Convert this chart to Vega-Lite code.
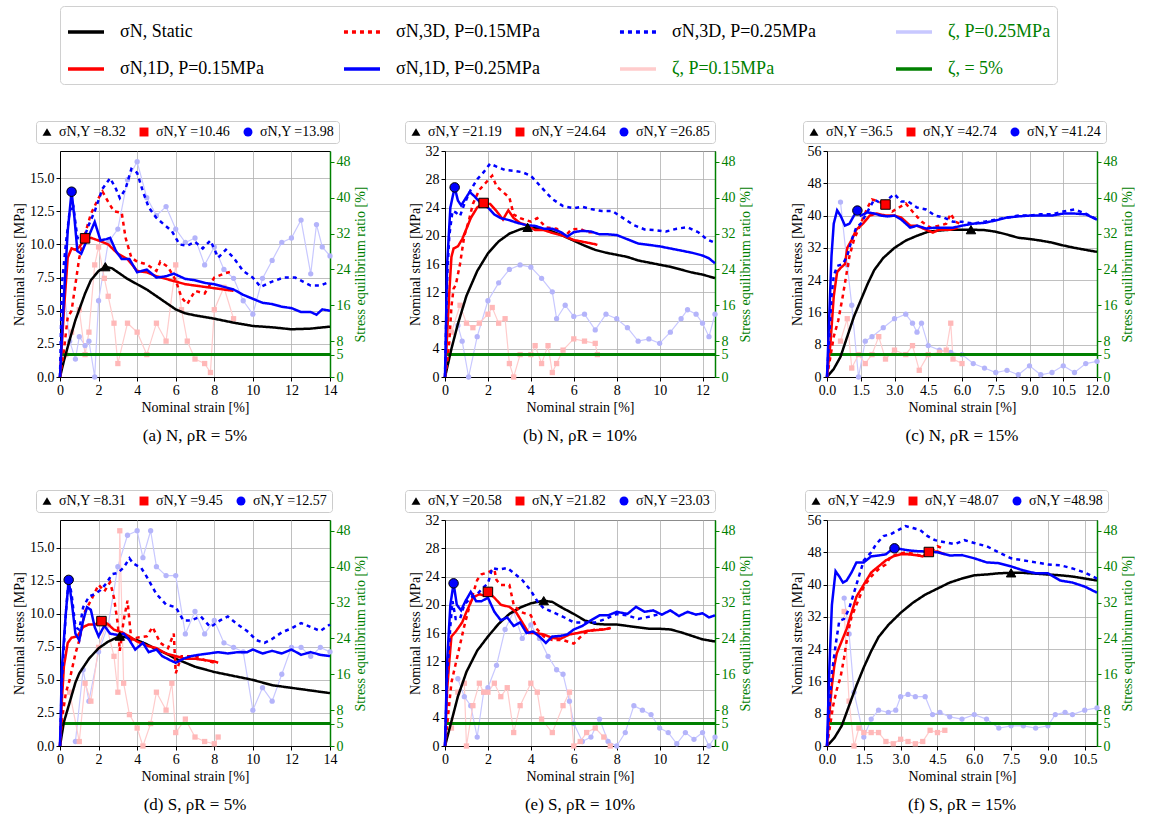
{
"$schema":"https://vega.github.io/schema/vega-lite/v6.json",
"background":"white",
"padding":{"left":12,"top":5,"right":0,"bottom":0},
"config":{
 "font":"Liberation Serif",
 "style":{"guide-label":{"font":"Liberation Serif"},"guide-title":{"font":"Liberation Serif"},"group-title":{"font":"Liberation Serif"}},
 "view":{"stroke":"black","strokeWidth":1},
 "axis":{"labelFont":"Liberation Serif","titleFont":"Liberation Serif","labelFontSize":14,"titleFontSize":14,"titleFontWeight":"normal","labelColor":"black","titleColor":"black","domainColor":"black","tickColor":"black","gridColor":"#b0b0b0","gridWidth":0.8,"tickSize":4,"labelPadding":2,"titlePadding":3,"labelFlush":false,"labelOverlap":false},
 "title":{"orient":"bottom","fontSize":17,"fontWeight":"normal","offset":14,"font":"Liberation Serif"},
 "legend":{"orient":"top","columns":4,"symbolType":"stroke","symbolSize":1300,"symbolStrokeWidth":3.5,"labelFont":"Liberation Serif","labelFontSize":18,"labelLimit":400,"columnPadding":72,"rowPadding":8,"strokeColor":"#d0d0d0","cornerRadius":4,"padding":6,"offset":36,"labelOffset":14}
},
"datasets":{
"lim":[{"s":"Z5","z":5}],
"yp":[
{"p":"a","o":1,"lab":"σN,Y =8.32","x":2.35,"y":8.32},{"p":"a","o":2,"lab":"σN,Y =10.46","x":1.3,"y":10.46},{"p":"a","o":3,"lab":"σN,Y =13.98","x":0.6,"y":13.98},
{"p":"b","o":1,"lab":"σN,Y =21.19","x":3.85,"y":21.19},{"p":"b","o":2,"lab":"σN,Y =24.64","x":1.8,"y":24.64},{"p":"b","o":3,"lab":"σN,Y =26.85","x":0.45,"y":26.85},
{"p":"c","o":1,"lab":"σN,Y =36.5","x":6.4,"y":36.5},{"p":"c","o":2,"lab":"σN,Y =42.74","x":2.6,"y":42.74},{"p":"c","o":3,"lab":"σN,Y =41.24","x":1.35,"y":41.24},
{"p":"d","o":1,"lab":"σN,Y =8.31","x":3.1,"y":8.31},{"p":"d","o":2,"lab":"σN,Y =9.45","x":2.15,"y":9.45},{"p":"d","o":3,"lab":"σN,Y =12.57","x":0.45,"y":12.57},
{"p":"e","o":1,"lab":"σN,Y =20.58","x":4.6,"y":20.58},{"p":"e","o":2,"lab":"σN,Y =21.82","x":2.0,"y":21.82},{"p":"e","o":3,"lab":"σN,Y =23.03","x":0.4,"y":23.03},
{"p":"f","o":1,"lab":"σN,Y =42.9","x":7.5,"y":42.9},{"p":"f","o":2,"lab":"σN,Y =48.07","x":4.15,"y":48.07},{"p":"f","o":3,"lab":"σN,Y =48.98","x":2.75,"y":48.98}
],
"st":[
{"p":"a","s":"S","x":0,"y":0},{"p":"a","s":"S","x":0.2,"y":1.2},{"p":"a","s":"S","x":0.5,"y":2.8},{"p":"a","s":"S","x":0.8,"y":4.3},{"p":"a","s":"S","x":1,"y":5.1},{"p":"a","s":"S","x":1.3,"y":6.3},{"p":"a","s":"S","x":1.6,"y":7.3},{"p":"a","s":"S","x":2,"y":8},{"p":"a","s":"S","x":2.35,"y":8.32},{"p":"a","s":"S","x":2.7,"y":8.2},{"p":"a","s":"S","x":3,"y":7.9},{"p":"a","s":"S","x":3.5,"y":7.4},{"p":"a","s":"S","x":4,"y":7},{"p":"a","s":"S","x":4.5,"y":6.6},{"p":"a","s":"S","x":5,"y":6.1},{"p":"a","s":"S","x":5.5,"y":5.6},{"p":"a","s":"S","x":6,"y":5.1},{"p":"a","s":"S","x":6.5,"y":4.8},{"p":"a","s":"S","x":7,"y":4.65},{"p":"a","s":"S","x":8,"y":4.4},{"p":"a","s":"S","x":9,"y":4.1},{"p":"a","s":"S","x":10,"y":3.85},{"p":"a","s":"S","x":11,"y":3.75},{"p":"a","s":"S","x":12,"y":3.6},{"p":"a","s":"S","x":13,"y":3.65},{"p":"a","s":"S","x":14,"y":3.8},
{"p":"a","s":"R1","x":0,"y":0},{"p":"a","s":"R1","x":0.1,"y":2.5},{"p":"a","s":"R1","x":0.2,"y":5},{"p":"a","s":"R1","x":0.4,"y":9},{"p":"a","s":"R1","x":0.6,"y":9.7},{"p":"a","s":"R1","x":0.8,"y":9.6},{"p":"a","s":"R1","x":1,"y":9.8},{"p":"a","s":"R1","x":1.3,"y":10.46},{"p":"a","s":"R1","x":1.6,"y":10.5},{"p":"a","s":"R1","x":2,"y":10.3},{"p":"a","s":"R1","x":2.5,"y":10},{"p":"a","s":"R1","x":3,"y":9.3},{"p":"a","s":"R1","x":3.5,"y":8.9},{"p":"a","s":"R1","x":4,"y":8},{"p":"a","s":"R1","x":4.5,"y":7.9},{"p":"a","s":"R1","x":5,"y":7.6},{"p":"a","s":"R1","x":5.5,"y":7.4},{"p":"a","s":"R1","x":6,"y":7.2},{"p":"a","s":"R1","x":6.5,"y":7},{"p":"a","s":"R1","x":7,"y":6.9},{"p":"a","s":"R1","x":7.5,"y":6.8},{"p":"a","s":"R1","x":8,"y":6.7},{"p":"a","s":"R1","x":8.5,"y":6.6},{"p":"a","s":"R1","x":9,"y":6.5},
{"p":"a","s":"R3","x":0,"y":0},{"p":"a","s":"R3","x":0.2,"y":2},{"p":"a","s":"R3","x":0.4,"y":4.5},{"p":"a","s":"R3","x":0.6,"y":5},{"p":"a","s":"R3","x":0.8,"y":7},{"p":"a","s":"R3","x":1,"y":9},{"p":"a","s":"R3","x":1.3,"y":10.8},{"p":"a","s":"R3","x":1.6,"y":12.3},{"p":"a","s":"R3","x":2,"y":13.5},{"p":"a","s":"R3","x":2.2,"y":14},{"p":"a","s":"R3","x":2.5,"y":13.2},{"p":"a","s":"R3","x":2.8,"y":12.5},{"p":"a","s":"R3","x":3.2,"y":12.4},{"p":"a","s":"R3","x":3.4,"y":10.5},{"p":"a","s":"R3","x":3.7,"y":9},{"p":"a","s":"R3","x":4,"y":8.7},{"p":"a","s":"R3","x":4.5,"y":8.5},{"p":"a","s":"R3","x":5,"y":8},{"p":"a","s":"R3","x":5.2,"y":8.7},{"p":"a","s":"R3","x":5.6,"y":8.3},{"p":"a","s":"R3","x":6,"y":7.3},{"p":"a","s":"R3","x":6.3,"y":6},{"p":"a","s":"R3","x":6.6,"y":5.5},{"p":"a","s":"R3","x":7,"y":6.5},{"p":"a","s":"R3","x":7.5,"y":6.3},{"p":"a","s":"R3","x":8,"y":7.5},{"p":"a","s":"R3","x":8.5,"y":7.8},{"p":"a","s":"R3","x":9,"y":8},
{"p":"a","s":"B1","x":0,"y":0},{"p":"a","s":"B1","x":0.2,"y":6},{"p":"a","s":"B1","x":0.4,"y":11},{"p":"a","s":"B1","x":0.6,"y":13.98},{"p":"a","s":"B1","x":0.75,"y":12},{"p":"a","s":"B1","x":0.9,"y":9.5},{"p":"a","s":"B1","x":1.1,"y":9.3},{"p":"a","s":"B1","x":1.3,"y":10},{"p":"a","s":"B1","x":1.6,"y":11},{"p":"a","s":"B1","x":1.8,"y":11.7},{"p":"a","s":"B1","x":2.1,"y":10.3},{"p":"a","s":"B1","x":2.4,"y":10.4},{"p":"a","s":"B1","x":2.6,"y":10.5},{"p":"a","s":"B1","x":2.9,"y":9.5},{"p":"a","s":"B1","x":3.2,"y":8.9},{"p":"a","s":"B1","x":3.6,"y":8.9},{"p":"a","s":"B1","x":4,"y":7.9},{"p":"a","s":"B1","x":4.5,"y":8.1},{"p":"a","s":"B1","x":5,"y":7.5},{"p":"a","s":"B1","x":5.5,"y":7.6},{"p":"a","s":"B1","x":5.9,"y":7.8},{"p":"a","s":"B1","x":6.5,"y":7.4},{"p":"a","s":"B1","x":7,"y":7.3},{"p":"a","s":"B1","x":7.5,"y":7.1},{"p":"a","s":"B1","x":8,"y":7},{"p":"a","s":"B1","x":8.5,"y":6.8},{"p":"a","s":"B1","x":9,"y":6.6},{"p":"a","s":"B1","x":9.5,"y":6.2},{"p":"a","s":"B1","x":10,"y":5.9},{"p":"a","s":"B1","x":10.5,"y":5.6},{"p":"a","s":"B1","x":11,"y":5.5},{"p":"a","s":"B1","x":11.5,"y":5.3},{"p":"a","s":"B1","x":12,"y":5.2},{"p":"a","s":"B1","x":12.5,"y":4.9},{"p":"a","s":"B1","x":13,"y":4.9},{"p":"a","s":"B1","x":13.3,"y":4.7},{"p":"a","s":"B1","x":13.6,"y":5.1},{"p":"a","s":"B1","x":14,"y":5},
{"p":"a","s":"B3","x":0,"y":0},{"p":"a","s":"B3","x":0.1,"y":7},{"p":"a","s":"B3","x":0.3,"y":10},{"p":"a","s":"B3","x":0.5,"y":12.5},{"p":"a","s":"B3","x":0.7,"y":12.8},{"p":"a","s":"B3","x":0.9,"y":10.5},{"p":"a","s":"B3","x":1.2,"y":10.3},{"p":"a","s":"B3","x":1.5,"y":11.5},{"p":"a","s":"B3","x":1.8,"y":12.5},{"p":"a","s":"B3","x":2.2,"y":14.2},{"p":"a","s":"B3","x":2.6,"y":15},{"p":"a","s":"B3","x":2.9,"y":14.2},{"p":"a","s":"B3","x":3.1,"y":13.5},{"p":"a","s":"B3","x":3.4,"y":14.2},{"p":"a","s":"B3","x":3.7,"y":15.7},{"p":"a","s":"B3","x":4,"y":15.4},{"p":"a","s":"B3","x":4.3,"y":14},{"p":"a","s":"B3","x":4.6,"y":12.8},{"p":"a","s":"B3","x":5,"y":12},{"p":"a","s":"B3","x":5.4,"y":11.5},{"p":"a","s":"B3","x":5.8,"y":11},{"p":"a","s":"B3","x":6.2,"y":10},{"p":"a","s":"B3","x":6.6,"y":9.9},{"p":"a","s":"B3","x":7,"y":10.2},{"p":"a","s":"B3","x":7.4,"y":9.7},{"p":"a","s":"B3","x":7.8,"y":10.3},{"p":"a","s":"B3","x":8.2,"y":9},{"p":"a","s":"B3","x":8.6,"y":9.6},{"p":"a","s":"B3","x":9,"y":9},{"p":"a","s":"B3","x":9.5,"y":8},{"p":"a","s":"B3","x":10,"y":7.5},{"p":"a","s":"B3","x":10.4,"y":6.8},{"p":"a","s":"B3","x":11,"y":7.2},{"p":"a","s":"B3","x":11.6,"y":7.5},{"p":"a","s":"B3","x":12.2,"y":7.5},{"p":"a","s":"B3","x":12.6,"y":7.2},{"p":"a","s":"B3","x":13,"y":6.9},{"p":"a","s":"B3","x":13.5,"y":6.9},{"p":"a","s":"B3","x":14,"y":7.2},

{"p":"b","s":"S","x":0,"y":0},{"p":"b","s":"S","x":0.3,"y":4},{"p":"b","s":"S","x":0.6,"y":7.5},{"p":"b","s":"S","x":1,"y":11.5},{"p":"b","s":"S","x":1.5,"y":15},{"p":"b","s":"S","x":2,"y":17.5},{"p":"b","s":"S","x":2.5,"y":19.2},{"p":"b","s":"S","x":3,"y":20.3},{"p":"b","s":"S","x":3.5,"y":20.9},{"p":"b","s":"S","x":3.85,"y":21.19},{"p":"b","s":"S","x":4.5,"y":21},{"p":"b","s":"S","x":5,"y":20.6},{"p":"b","s":"S","x":5.5,"y":20},{"p":"b","s":"S","x":6,"y":19.3},{"p":"b","s":"S","x":6.5,"y":18.6},{"p":"b","s":"S","x":7,"y":18},{"p":"b","s":"S","x":7.5,"y":17.6},{"p":"b","s":"S","x":8,"y":17.3},{"p":"b","s":"S","x":8.5,"y":17},{"p":"b","s":"S","x":9,"y":16.5},{"p":"b","s":"S","x":9.5,"y":16.2},{"p":"b","s":"S","x":10,"y":15.9},{"p":"b","s":"S","x":10.5,"y":15.6},{"p":"b","s":"S","x":11,"y":15.2},{"p":"b","s":"S","x":11.5,"y":14.8},{"p":"b","s":"S","x":12,"y":14.5},{"p":"b","s":"S","x":12.58,"y":14},
{"p":"b","s":"R1","x":0,"y":0},{"p":"b","s":"R1","x":0.1,"y":6},{"p":"b","s":"R1","x":0.2,"y":12},{"p":"b","s":"R1","x":0.3,"y":17},{"p":"b","s":"R1","x":0.4,"y":18.2},{"p":"b","s":"R1","x":0.6,"y":18.5},{"p":"b","s":"R1","x":0.8,"y":19.5},{"p":"b","s":"R1","x":1,"y":21},{"p":"b","s":"R1","x":1.2,"y":22.5},{"p":"b","s":"R1","x":1.5,"y":24},{"p":"b","s":"R1","x":1.8,"y":24.64},{"p":"b","s":"R1","x":2.1,"y":24.5},{"p":"b","s":"R1","x":2.4,"y":23.5},{"p":"b","s":"R1","x":2.7,"y":22.3},{"p":"b","s":"R1","x":2.95,"y":23.6},{"p":"b","s":"R1","x":3.2,"y":22.5},{"p":"b","s":"R1","x":3.5,"y":21.8},{"p":"b","s":"R1","x":3.8,"y":21.5},{"p":"b","s":"R1","x":4.2,"y":20.8},{"p":"b","s":"R1","x":4.6,"y":20.8},{"p":"b","s":"R1","x":5,"y":20.4},{"p":"b","s":"R1","x":5.5,"y":20},{"p":"b","s":"R1","x":6,"y":19.4},{"p":"b","s":"R1","x":6.5,"y":19.1},{"p":"b","s":"R1","x":7,"y":18.8},{"p":"b","s":"R1","x":7.1,"y":18.7},
{"p":"b","s":"R3","x":0,"y":0},{"p":"b","s":"R3","x":0.1,"y":2},{"p":"b","s":"R3","x":0.2,"y":5},{"p":"b","s":"R3","x":0.3,"y":10},{"p":"b","s":"R3","x":0.4,"y":12.5},{"p":"b","s":"R3","x":0.5,"y":13},{"p":"b","s":"R3","x":0.7,"y":16},{"p":"b","s":"R3","x":0.9,"y":20},{"p":"b","s":"R3","x":1.1,"y":22},{"p":"b","s":"R3","x":1.3,"y":24.5},{"p":"b","s":"R3","x":1.6,"y":26.5},{"p":"b","s":"R3","x":1.9,"y":27.5},{"p":"b","s":"R3","x":2.2,"y":28.5},{"p":"b","s":"R3","x":2.4,"y":27},{"p":"b","s":"R3","x":2.7,"y":26.2},{"p":"b","s":"R3","x":3,"y":25.4},{"p":"b","s":"R3","x":3.2,"y":23},{"p":"b","s":"R3","x":3.5,"y":22.5},{"p":"b","s":"R3","x":4,"y":22},{"p":"b","s":"R3","x":4.3,"y":22.5},{"p":"b","s":"R3","x":4.7,"y":21.2},{"p":"b","s":"R3","x":5.2,"y":21},{"p":"b","s":"R3","x":5.6,"y":20},{"p":"b","s":"R3","x":5.9,"y":20.9},{"p":"b","s":"R3","x":6.3,"y":21},{"p":"b","s":"R3","x":6.6,"y":20.5},{"p":"b","s":"R3","x":7,"y":20.5},
{"p":"b","s":"B1","x":0,"y":0},{"p":"b","s":"B1","x":0.1,"y":16},{"p":"b","s":"B1","x":0.25,"y":24},{"p":"b","s":"B1","x":0.45,"y":26.85},{"p":"b","s":"B1","x":0.6,"y":25},{"p":"b","s":"B1","x":0.75,"y":24.3},{"p":"b","s":"B1","x":0.9,"y":25},{"p":"b","s":"B1","x":1.15,"y":26.2},{"p":"b","s":"B1","x":1.4,"y":25.5},{"p":"b","s":"B1","x":1.7,"y":24.5},{"p":"b","s":"B1","x":2,"y":24},{"p":"b","s":"B1","x":2.3,"y":23},{"p":"b","s":"B1","x":2.6,"y":22.5},{"p":"b","s":"B1","x":3,"y":22.2},{"p":"b","s":"B1","x":3.4,"y":21.8},{"p":"b","s":"B1","x":3.8,"y":21.5},{"p":"b","s":"B1","x":4.2,"y":21.4},{"p":"b","s":"B1","x":4.6,"y":21},{"p":"b","s":"B1","x":5,"y":21},{"p":"b","s":"B1","x":5.4,"y":20.5},{"p":"b","s":"B1","x":5.7,"y":19.9},{"p":"b","s":"B1","x":6,"y":20.5},{"p":"b","s":"B1","x":6.4,"y":20.7},{"p":"b","s":"B1","x":6.8,"y":20.6},{"p":"b","s":"B1","x":7.2,"y":20.2},{"p":"b","s":"B1","x":7.6,"y":20.2},{"p":"b","s":"B1","x":8,"y":20.1},{"p":"b","s":"B1","x":8.5,"y":19.5},{"p":"b","s":"B1","x":9,"y":18.9},{"p":"b","s":"B1","x":9.5,"y":18.7},{"p":"b","s":"B1","x":10,"y":18.5},{"p":"b","s":"B1","x":10.5,"y":18.2},{"p":"b","s":"B1","x":11,"y":17.9},{"p":"b","s":"B1","x":11.5,"y":17.6},{"p":"b","s":"B1","x":12,"y":17.2},{"p":"b","s":"B1","x":12.3,"y":16.8},{"p":"b","s":"B1","x":12.58,"y":16.1},
{"p":"b","s":"B3","x":0,"y":0},{"p":"b","s":"B3","x":0.1,"y":14},{"p":"b","s":"B3","x":0.2,"y":20},{"p":"b","s":"B3","x":0.35,"y":23.5},{"p":"b","s":"B3","x":0.5,"y":23.3},{"p":"b","s":"B3","x":0.7,"y":22.8},{"p":"b","s":"B3","x":0.9,"y":24.5},{"p":"b","s":"B3","x":1.2,"y":26.5},{"p":"b","s":"B3","x":1.5,"y":28},{"p":"b","s":"B3","x":1.8,"y":29},{"p":"b","s":"B3","x":2.1,"y":30.2},{"p":"b","s":"B3","x":2.4,"y":29.8},{"p":"b","s":"B3","x":2.8,"y":29.3},{"p":"b","s":"B3","x":3.2,"y":29.2},{"p":"b","s":"B3","x":3.6,"y":29},{"p":"b","s":"B3","x":4,"y":28.5},{"p":"b","s":"B3","x":4.3,"y":27.5},{"p":"b","s":"B3","x":4.6,"y":26.5},{"p":"b","s":"B3","x":5,"y":25.2},{"p":"b","s":"B3","x":5.5,"y":24.2},{"p":"b","s":"B3","x":6,"y":23.9},{"p":"b","s":"B3","x":6.4,"y":24.1},{"p":"b","s":"B3","x":6.8,"y":23.8},{"p":"b","s":"B3","x":7.3,"y":23.5},{"p":"b","s":"B3","x":7.8,"y":23.5},{"p":"b","s":"B3","x":8.3,"y":22.5},{"p":"b","s":"B3","x":8.8,"y":21.5},{"p":"b","s":"B3","x":9.3,"y":20.9},{"p":"b","s":"B3","x":9.8,"y":20.8},{"p":"b","s":"B3","x":10.3,"y":20.6},{"p":"b","s":"B3","x":10.8,"y":21},{"p":"b","s":"B3","x":11.3,"y":21.2},{"p":"b","s":"B3","x":11.8,"y":20.5},{"p":"b","s":"B3","x":12.2,"y":19.5},{"p":"b","s":"B3","x":12.58,"y":19},

{"p":"c","s":"S","x":0,"y":0},{"p":"c","s":"S","x":0.3,"y":2},{"p":"c","s":"S","x":0.6,"y":5},{"p":"c","s":"S","x":0.9,"y":10},{"p":"c","s":"S","x":1.2,"y":15},{"p":"c","s":"S","x":1.5,"y":19},{"p":"c","s":"S","x":1.8,"y":23},{"p":"c","s":"S","x":2.1,"y":26.5},{"p":"c","s":"S","x":2.5,"y":29.5},{"p":"c","s":"S","x":3,"y":32},{"p":"c","s":"S","x":3.5,"y":33.8},{"p":"c","s":"S","x":4,"y":35},{"p":"c","s":"S","x":4.5,"y":36},{"p":"c","s":"S","x":5,"y":36.3},{"p":"c","s":"S","x":5.5,"y":36.5},{"p":"c","s":"S","x":6.4,"y":36.5},{"p":"c","s":"S","x":7,"y":36.4},{"p":"c","s":"S","x":7.5,"y":36},{"p":"c","s":"S","x":8,"y":35.3},{"p":"c","s":"S","x":8.5,"y":34.5},{"p":"c","s":"S","x":9,"y":34.2},{"p":"c","s":"S","x":9.5,"y":33.8},{"p":"c","s":"S","x":10,"y":33.3},{"p":"c","s":"S","x":10.5,"y":32.6},{"p":"c","s":"S","x":11,"y":32},{"p":"c","s":"S","x":11.5,"y":31.5},{"p":"c","s":"S","x":12,"y":31},
{"p":"c","s":"R1","x":0,"y":0},{"p":"c","s":"R1","x":0.15,"y":8},{"p":"c","s":"R1","x":0.3,"y":20},{"p":"c","s":"R1","x":0.45,"y":26},{"p":"c","s":"R1","x":0.6,"y":27},{"p":"c","s":"R1","x":0.8,"y":28},{"p":"c","s":"R1","x":0.9,"y":32},{"p":"c","s":"R1","x":1.1,"y":34},{"p":"c","s":"R1","x":1.3,"y":36.5},{"p":"c","s":"R1","x":1.6,"y":38},{"p":"c","s":"R1","x":1.9,"y":40},{"p":"c","s":"R1","x":2.2,"y":40.5},{"p":"c","s":"R1","x":2.6,"y":40},{"p":"c","s":"R1","x":3,"y":40},{"p":"c","s":"R1","x":3.3,"y":39.5},{"p":"c","s":"R1","x":3.7,"y":37.5},{"p":"c","s":"R1","x":4,"y":37.5},{"p":"c","s":"R1","x":4.4,"y":36.5},{"p":"c","s":"R1","x":4.7,"y":35.8},{"p":"c","s":"R1","x":5,"y":36.5},{"p":"c","s":"R1","x":5.5,"y":36.5},{"p":"c","s":"R1","x":5.8,"y":37},
{"p":"c","s":"R3","x":0,"y":0},{"p":"c","s":"R3","x":0.15,"y":5},{"p":"c","s":"R3","x":0.3,"y":10},{"p":"c","s":"R3","x":0.5,"y":14},{"p":"c","s":"R3","x":0.7,"y":20},{"p":"c","s":"R3","x":0.85,"y":25},{"p":"c","s":"R3","x":1,"y":30},{"p":"c","s":"R3","x":1.2,"y":34},{"p":"c","s":"R3","x":1.5,"y":38},{"p":"c","s":"R3","x":1.8,"y":42},{"p":"c","s":"R3","x":2,"y":44},{"p":"c","s":"R3","x":2.3,"y":43.5},{"p":"c","s":"R3","x":2.6,"y":42.7},{"p":"c","s":"R3","x":2.9,"y":41},{"p":"c","s":"R3","x":3.2,"y":42},{"p":"c","s":"R3","x":3.5,"y":43},{"p":"c","s":"R3","x":3.8,"y":41},{"p":"c","s":"R3","x":4.2,"y":38.5},{"p":"c","s":"R3","x":4.6,"y":37},{"p":"c","s":"R3","x":5,"y":37.5},{"p":"c","s":"R3","x":5.3,"y":38},{"p":"c","s":"R3","x":5.5,"y":40.5},{"p":"c","s":"R3","x":5.7,"y":38.5},{"p":"c","s":"R3","x":5.9,"y":38},
{"p":"c","s":"B1","x":0,"y":0},{"p":"c","s":"B1","x":0.1,"y":15},{"p":"c","s":"B1","x":0.2,"y":30},{"p":"c","s":"B1","x":0.3,"y":38},{"p":"c","s":"B1","x":0.45,"y":41.3},{"p":"c","s":"B1","x":0.6,"y":40},{"p":"c","s":"B1","x":0.8,"y":37.5},{"p":"c","s":"B1","x":1,"y":38},{"p":"c","s":"B1","x":1.2,"y":40},{"p":"c","s":"B1","x":1.35,"y":41.24},{"p":"c","s":"B1","x":1.5,"y":40},{"p":"c","s":"B1","x":1.8,"y":40.8},{"p":"c","s":"B1","x":2.1,"y":40.5},{"p":"c","s":"B1","x":2.4,"y":40},{"p":"c","s":"B1","x":2.7,"y":39.8},{"p":"c","s":"B1","x":3,"y":40},{"p":"c","s":"B1","x":3.3,"y":39},{"p":"c","s":"B1","x":3.7,"y":37},{"p":"c","s":"B1","x":4,"y":37.5},{"p":"c","s":"B1","x":4.4,"y":36.8},{"p":"c","s":"B1","x":4.8,"y":37},{"p":"c","s":"B1","x":5.2,"y":37},{"p":"c","s":"B1","x":5.6,"y":37},{"p":"c","s":"B1","x":6,"y":37.5},{"p":"c","s":"B1","x":6.5,"y":38},{"p":"c","s":"B1","x":7,"y":38.2},{"p":"c","s":"B1","x":7.5,"y":38.8},{"p":"c","s":"B1","x":8,"y":39.5},{"p":"c","s":"B1","x":8.5,"y":39.8},{"p":"c","s":"B1","x":9,"y":40},{"p":"c","s":"B1","x":9.5,"y":40},{"p":"c","s":"B1","x":10,"y":40},{"p":"c","s":"B1","x":10.5,"y":40.5},{"p":"c","s":"B1","x":11,"y":40.5},{"p":"c","s":"B1","x":11.5,"y":40.3},{"p":"c","s":"B1","x":12,"y":39},
{"p":"c","s":"B3","x":0,"y":0},{"p":"c","s":"B3","x":0.1,"y":10},{"p":"c","s":"B3","x":0.2,"y":20},{"p":"c","s":"B3","x":0.3,"y":25},{"p":"c","s":"B3","x":0.45,"y":27.5},{"p":"c","s":"B3","x":0.7,"y":28},{"p":"c","s":"B3","x":0.9,"y":30},{"p":"c","s":"B3","x":1.1,"y":34},{"p":"c","s":"B3","x":1.3,"y":37},{"p":"c","s":"B3","x":1.5,"y":38},{"p":"c","s":"B3","x":1.8,"y":41},{"p":"c","s":"B3","x":2.1,"y":44},{"p":"c","s":"B3","x":2.4,"y":43},{"p":"c","s":"B3","x":2.7,"y":44},{"p":"c","s":"B3","x":3,"y":45.3},{"p":"c","s":"B3","x":3.3,"y":43.5},{"p":"c","s":"B3","x":3.6,"y":43.5},{"p":"c","s":"B3","x":4,"y":42},{"p":"c","s":"B3","x":4.4,"y":41.5},{"p":"c","s":"B3","x":4.8,"y":40},{"p":"c","s":"B3","x":5.2,"y":39.5},{"p":"c","s":"B3","x":5.6,"y":38.5},{"p":"c","s":"B3","x":6,"y":38.5},{"p":"c","s":"B3","x":6.5,"y":38},{"p":"c","s":"B3","x":7,"y":38.5},{"p":"c","s":"B3","x":7.5,"y":39},{"p":"c","s":"B3","x":8,"y":39.5},{"p":"c","s":"B3","x":8.5,"y":40},{"p":"c","s":"B3","x":9,"y":40},{"p":"c","s":"B3","x":9.5,"y":40.3},{"p":"c","s":"B3","x":10,"y":40.3},{"p":"c","s":"B3","x":10.5,"y":41},{"p":"c","s":"B3","x":11,"y":41.5},{"p":"c","s":"B3","x":11.5,"y":40.5},{"p":"c","s":"B3","x":12,"y":39},

{"p":"d","s":"S","x":0,"y":0},{"p":"d","s":"S","x":0.2,"y":1.8},{"p":"d","s":"S","x":0.5,"y":3.3},{"p":"d","s":"S","x":0.8,"y":4.8},{"p":"d","s":"S","x":1,"y":5.5},{"p":"d","s":"S","x":1.5,"y":6.6},{"p":"d","s":"S","x":2,"y":7.4},{"p":"d","s":"S","x":2.5,"y":7.9},{"p":"d","s":"S","x":3.1,"y":8.31},{"p":"d","s":"S","x":3.5,"y":8.2},{"p":"d","s":"S","x":4,"y":8},{"p":"d","s":"S","x":4.5,"y":7.7},{"p":"d","s":"S","x":5,"y":7.3},{"p":"d","s":"S","x":5.5,"y":7},{"p":"d","s":"S","x":6,"y":6.6},{"p":"d","s":"S","x":6.5,"y":6.3},{"p":"d","s":"S","x":7,"y":6},{"p":"d","s":"S","x":7.5,"y":5.8},{"p":"d","s":"S","x":8,"y":5.6},{"p":"d","s":"S","x":9,"y":5.3},{"p":"d","s":"S","x":10,"y":5},{"p":"d","s":"S","x":11,"y":4.6},{"p":"d","s":"S","x":12,"y":4.4},{"p":"d","s":"S","x":13,"y":4.2},{"p":"d","s":"S","x":14,"y":4},
{"p":"d","s":"R1","x":0,"y":0},{"p":"d","s":"R1","x":0.1,"y":3.5},{"p":"d","s":"R1","x":0.2,"y":6},{"p":"d","s":"R1","x":0.4,"y":7.8},{"p":"d","s":"R1","x":0.6,"y":8.2},{"p":"d","s":"R1","x":0.9,"y":8.3},{"p":"d","s":"R1","x":1.2,"y":9},{"p":"d","s":"R1","x":1.5,"y":9.2},{"p":"d","s":"R1","x":1.8,"y":9.2},{"p":"d","s":"R1","x":2.2,"y":9.45},{"p":"d","s":"R1","x":2.5,"y":9.2},{"p":"d","s":"R1","x":2.8,"y":8.8},{"p":"d","s":"R1","x":3.2,"y":8.6},{"p":"d","s":"R1","x":3.6,"y":8.3},{"p":"d","s":"R1","x":4,"y":7.9},{"p":"d","s":"R1","x":4.5,"y":7.6},{"p":"d","s":"R1","x":5,"y":7.4},{"p":"d","s":"R1","x":5.5,"y":7},{"p":"d","s":"R1","x":6,"y":6.8},{"p":"d","s":"R1","x":6.5,"y":6.6},{"p":"d","s":"R1","x":7,"y":6.6},{"p":"d","s":"R1","x":7.5,"y":6.5},{"p":"d","s":"R1","x":8,"y":6.4},{"p":"d","s":"R1","x":8.2,"y":6.3},
{"p":"d","s":"R3","x":0,"y":0},{"p":"d","s":"R3","x":0.1,"y":2},{"p":"d","s":"R3","x":0.3,"y":4},{"p":"d","s":"R3","x":0.5,"y":5},{"p":"d","s":"R3","x":0.8,"y":7},{"p":"d","s":"R3","x":1,"y":8},{"p":"d","s":"R3","x":1.3,"y":10.2},{"p":"d","s":"R3","x":1.6,"y":11},{"p":"d","s":"R3","x":2,"y":12.2},{"p":"d","s":"R3","x":2.3,"y":11.7},{"p":"d","s":"R3","x":2.6,"y":12.4},{"p":"d","s":"R3","x":2.8,"y":11.2},{"p":"d","s":"R3","x":3,"y":9.2},{"p":"d","s":"R3","x":3.1,"y":7.2},{"p":"d","s":"R3","x":3.3,"y":9.5},{"p":"d","s":"R3","x":3.5,"y":11},{"p":"d","s":"R3","x":3.7,"y":8},{"p":"d","s":"R3","x":4,"y":8.2},{"p":"d","s":"R3","x":4.5,"y":8.3},{"p":"d","s":"R3","x":4.8,"y":9},{"p":"d","s":"R3","x":5.2,"y":7.8},{"p":"d","s":"R3","x":5.6,"y":7.4},{"p":"d","s":"R3","x":5.9,"y":8.5},{"p":"d","s":"R3","x":6,"y":5.5},{"p":"d","s":"R3","x":6.3,"y":6.8},{"p":"d","s":"R3","x":7,"y":6.8},{"p":"d","s":"R3","x":7.5,"y":6.5},{"p":"d","s":"R3","x":8,"y":6.3},
{"p":"d","s":"B1","x":0,"y":0},{"p":"d","s":"B1","x":0.1,"y":6},{"p":"d","s":"B1","x":0.3,"y":10},{"p":"d","s":"B1","x":0.45,"y":12.57},{"p":"d","s":"B1","x":0.6,"y":11},{"p":"d","s":"B1","x":0.8,"y":8.5},{"p":"d","s":"B1","x":1,"y":8},{"p":"d","s":"B1","x":1.2,"y":9.5},{"p":"d","s":"B1","x":1.4,"y":10.5},{"p":"d","s":"B1","x":1.6,"y":10.3},{"p":"d","s":"B1","x":1.8,"y":9},{"p":"d","s":"B1","x":2,"y":8.3},{"p":"d","s":"B1","x":2.3,"y":9.1},{"p":"d","s":"B1","x":2.6,"y":8.5},{"p":"d","s":"B1","x":3,"y":8.4},{"p":"d","s":"B1","x":3.3,"y":8.5},{"p":"d","s":"B1","x":3.6,"y":8},{"p":"d","s":"B1","x":3.9,"y":7.3},{"p":"d","s":"B1","x":4.3,"y":7.8},{"p":"d","s":"B1","x":4.6,"y":7.1},{"p":"d","s":"B1","x":5,"y":7.3},{"p":"d","s":"B1","x":5.3,"y":6.8},{"p":"d","s":"B1","x":5.7,"y":6.5},{"p":"d","s":"B1","x":6,"y":6.3},{"p":"d","s":"B1","x":6.4,"y":6.6},{"p":"d","s":"B1","x":6.8,"y":6.8},{"p":"d","s":"B1","x":7.2,"y":6.9},{"p":"d","s":"B1","x":7.7,"y":7},{"p":"d","s":"B1","x":8.2,"y":7.1},{"p":"d","s":"B1","x":8.7,"y":7},{"p":"d","s":"B1","x":9.2,"y":7.1},{"p":"d","s":"B1","x":9.7,"y":7.1},{"p":"d","s":"B1","x":10,"y":7.3},{"p":"d","s":"B1","x":10.5,"y":7},{"p":"d","s":"B1","x":11,"y":7.2},{"p":"d","s":"B1","x":11.5,"y":7},{"p":"d","s":"B1","x":12,"y":7.3},{"p":"d","s":"B1","x":12.5,"y":6.9},{"p":"d","s":"B1","x":13,"y":7.1},{"p":"d","s":"B1","x":13.5,"y":6.9},{"p":"d","s":"B1","x":14,"y":6.8},
{"p":"d","s":"B3","x":0,"y":0},{"p":"d","s":"B3","x":0.1,"y":5},{"p":"d","s":"B3","x":0.3,"y":10},{"p":"d","s":"B3","x":0.45,"y":12.6},{"p":"d","s":"B3","x":0.6,"y":11.5},{"p":"d","s":"B3","x":0.8,"y":9},{"p":"d","s":"B3","x":1,"y":8.8},{"p":"d","s":"B3","x":1.2,"y":10.5},{"p":"d","s":"B3","x":1.5,"y":11.3},{"p":"d","s":"B3","x":1.8,"y":11.5},{"p":"d","s":"B3","x":2.1,"y":11.8},{"p":"d","s":"B3","x":2.4,"y":12.3},{"p":"d","s":"B3","x":2.7,"y":13},{"p":"d","s":"B3","x":3,"y":13.1},{"p":"d","s":"B3","x":3.3,"y":13.5},{"p":"d","s":"B3","x":3.6,"y":14.2},{"p":"d","s":"B3","x":3.8,"y":13.8},{"p":"d","s":"B3","x":4.2,"y":13.5},{"p":"d","s":"B3","x":4.5,"y":12.8},{"p":"d","s":"B3","x":5,"y":11.5},{"p":"d","s":"B3","x":5.5,"y":10.7},{"p":"d","s":"B3","x":6,"y":10.5},{"p":"d","s":"B3","x":6.4,"y":9.5},{"p":"d","s":"B3","x":6.8,"y":9.5},{"p":"d","s":"B3","x":7.3,"y":9.8},{"p":"d","s":"B3","x":7.8,"y":9},{"p":"d","s":"B3","x":8.3,"y":9.5},{"p":"d","s":"B3","x":8.7,"y":9.8},{"p":"d","s":"B3","x":9.2,"y":9.2},{"p":"d","s":"B3","x":9.7,"y":8.7},{"p":"d","s":"B3","x":10.2,"y":8},{"p":"d","s":"B3","x":10.6,"y":7.8},{"p":"d","s":"B3","x":11,"y":8.1},{"p":"d","s":"B3","x":11.5,"y":8.6},{"p":"d","s":"B3","x":12,"y":8.9},{"p":"d","s":"B3","x":12.5,"y":9.3},{"p":"d","s":"B3","x":13,"y":9},{"p":"d","s":"B3","x":13.5,"y":8.7},{"p":"d","s":"B3","x":14,"y":9.2},

{"p":"e","s":"S","x":0,"y":0},{"p":"e","s":"S","x":0.3,"y":3.5},{"p":"e","s":"S","x":0.6,"y":7},{"p":"e","s":"S","x":1,"y":10.5},{"p":"e","s":"S","x":1.5,"y":13.5},{"p":"e","s":"S","x":2,"y":15.5},{"p":"e","s":"S","x":2.5,"y":17.3},{"p":"e","s":"S","x":3,"y":18.7},{"p":"e","s":"S","x":3.5,"y":19.6},{"p":"e","s":"S","x":4,"y":20.2},{"p":"e","s":"S","x":4.6,"y":20.58},{"p":"e","s":"S","x":5,"y":20.4},{"p":"e","s":"S","x":5.5,"y":19.5},{"p":"e","s":"S","x":6,"y":18.7},{"p":"e","s":"S","x":6.5,"y":17.8},{"p":"e","s":"S","x":7,"y":17.3},{"p":"e","s":"S","x":7.5,"y":17.2},{"p":"e","s":"S","x":8,"y":17.2},{"p":"e","s":"S","x":8.5,"y":17},{"p":"e","s":"S","x":9,"y":16.8},{"p":"e","s":"S","x":9.5,"y":16.6},{"p":"e","s":"S","x":10,"y":16.6},{"p":"e","s":"S","x":10.5,"y":16.5},{"p":"e","s":"S","x":11,"y":16.1},{"p":"e","s":"S","x":11.5,"y":15.6},{"p":"e","s":"S","x":12,"y":15.1},{"p":"e","s":"S","x":12.58,"y":14.8},
{"p":"e","s":"R1","x":0,"y":0},{"p":"e","s":"R1","x":0.1,"y":8},{"p":"e","s":"R1","x":0.2,"y":12},{"p":"e","s":"R1","x":0.3,"y":15.5},{"p":"e","s":"R1","x":0.5,"y":16.2},{"p":"e","s":"R1","x":0.8,"y":17.5},{"p":"e","s":"R1","x":1,"y":19},{"p":"e","s":"R1","x":1.3,"y":21},{"p":"e","s":"R1","x":1.6,"y":21.5},{"p":"e","s":"R1","x":1.8,"y":21.3},{"p":"e","s":"R1","x":2,"y":21.82},{"p":"e","s":"R1","x":2.3,"y":21},{"p":"e","s":"R1","x":2.6,"y":20},{"p":"e","s":"R1","x":3,"y":19.7},{"p":"e","s":"R1","x":3.3,"y":19},{"p":"e","s":"R1","x":3.6,"y":17.5},{"p":"e","s":"R1","x":3.9,"y":16},{"p":"e","s":"R1","x":4.2,"y":16},{"p":"e","s":"R1","x":4.6,"y":15.8},{"p":"e","s":"R1","x":5,"y":15.3},{"p":"e","s":"R1","x":5.4,"y":15.2},{"p":"e","s":"R1","x":5.8,"y":15.8},{"p":"e","s":"R1","x":6.2,"y":16},{"p":"e","s":"R1","x":6.6,"y":16.3},{"p":"e","s":"R1","x":7,"y":16.4},{"p":"e","s":"R1","x":7.4,"y":16.5},{"p":"e","s":"R1","x":7.7,"y":16.7},
{"p":"e","s":"R3","x":0,"y":0},{"p":"e","s":"R3","x":0.1,"y":3},{"p":"e","s":"R3","x":0.3,"y":9},{"p":"e","s":"R3","x":0.6,"y":13},{"p":"e","s":"R3","x":0.9,"y":17},{"p":"e","s":"R3","x":1.2,"y":20.5},{"p":"e","s":"R3","x":1.5,"y":23.5},{"p":"e","s":"R3","x":1.7,"y":24.3},{"p":"e","s":"R3","x":2,"y":24.6},{"p":"e","s":"R3","x":2.3,"y":25},{"p":"e","s":"R3","x":2.4,"y":23.5},{"p":"e","s":"R3","x":2.6,"y":22.8},{"p":"e","s":"R3","x":3,"y":22.8},{"p":"e","s":"R3","x":3.2,"y":20},{"p":"e","s":"R3","x":3.5,"y":19},{"p":"e","s":"R3","x":4,"y":18.5},{"p":"e","s":"R3","x":4.3,"y":16.5},{"p":"e","s":"R3","x":4.6,"y":15.5},{"p":"e","s":"R3","x":5,"y":15},{"p":"e","s":"R3","x":5.5,"y":15},{"p":"e","s":"R3","x":6,"y":14.5},{"p":"e","s":"R3","x":6.5,"y":16},{"p":"e","s":"R3","x":7,"y":16.5},{"p":"e","s":"R3","x":7.5,"y":16.5},{"p":"e","s":"R3","x":7.8,"y":16.8},
{"p":"e","s":"B1","x":0,"y":0},{"p":"e","s":"B1","x":0.1,"y":12},{"p":"e","s":"B1","x":0.25,"y":20},{"p":"e","s":"B1","x":0.4,"y":23.03},{"p":"e","s":"B1","x":0.55,"y":20},{"p":"e","s":"B1","x":0.75,"y":19.2},{"p":"e","s":"B1","x":0.95,"y":20.5},{"p":"e","s":"B1","x":1.2,"y":21.8},{"p":"e","s":"B1","x":1.45,"y":20.5},{"p":"e","s":"B1","x":1.7,"y":20.5},{"p":"e","s":"B1","x":2,"y":21},{"p":"e","s":"B1","x":2.3,"y":19},{"p":"e","s":"B1","x":2.6,"y":17.8},{"p":"e","s":"B1","x":2.9,"y":18.2},{"p":"e","s":"B1","x":3.2,"y":17},{"p":"e","s":"B1","x":3.5,"y":17.5},{"p":"e","s":"B1","x":3.8,"y":16},{"p":"e","s":"B1","x":4.1,"y":16.2},{"p":"e","s":"B1","x":4.4,"y":15.5},{"p":"e","s":"B1","x":4.7,"y":14.6},{"p":"e","s":"B1","x":5,"y":15.5},{"p":"e","s":"B1","x":5.4,"y":15.6},{"p":"e","s":"B1","x":5.7,"y":15.8},{"p":"e","s":"B1","x":6,"y":16.5},{"p":"e","s":"B1","x":6.4,"y":17},{"p":"e","s":"B1","x":6.8,"y":17.8},{"p":"e","s":"B1","x":7.2,"y":18.5},{"p":"e","s":"B1","x":7.6,"y":18.5},{"p":"e","s":"B1","x":8,"y":19},{"p":"e","s":"B1","x":8.5,"y":18.7},{"p":"e","s":"B1","x":8.9,"y":19.7},{"p":"e","s":"B1","x":9.3,"y":19},{"p":"e","s":"B1","x":9.7,"y":19.2},{"p":"e","s":"B1","x":10.1,"y":18.6},{"p":"e","s":"B1","x":10.5,"y":19.2},{"p":"e","s":"B1","x":10.9,"y":18.4},{"p":"e","s":"B1","x":11.3,"y":19},{"p":"e","s":"B1","x":11.7,"y":18.6},{"p":"e","s":"B1","x":12,"y":18.8},{"p":"e","s":"B1","x":12.3,"y":18.2},{"p":"e","s":"B1","x":12.58,"y":18.5},
{"p":"e","s":"B3","x":0,"y":0},{"p":"e","s":"B3","x":0.1,"y":10},{"p":"e","s":"B3","x":0.25,"y":17},{"p":"e","s":"B3","x":0.35,"y":20.5},{"p":"e","s":"B3","x":0.5,"y":18},{"p":"e","s":"B3","x":0.7,"y":18},{"p":"e","s":"B3","x":0.9,"y":20},{"p":"e","s":"B3","x":1.2,"y":21},{"p":"e","s":"B3","x":1.5,"y":21.5},{"p":"e","s":"B3","x":1.8,"y":22.5},{"p":"e","s":"B3","x":2,"y":23},{"p":"e","s":"B3","x":2.2,"y":25.2},{"p":"e","s":"B3","x":2.5,"y":25},{"p":"e","s":"B3","x":2.9,"y":25.2},{"p":"e","s":"B3","x":3.2,"y":24.5},{"p":"e","s":"B3","x":3.6,"y":23.5},{"p":"e","s":"B3","x":4,"y":22},{"p":"e","s":"B3","x":4.3,"y":20.5},{"p":"e","s":"B3","x":4.6,"y":19.5},{"p":"e","s":"B3","x":5,"y":19},{"p":"e","s":"B3","x":5.5,"y":18.3},{"p":"e","s":"B3","x":6,"y":17.5},{"p":"e","s":"B3","x":6.5,"y":17.5},{"p":"e","s":"B3","x":7,"y":17.5},{"p":"e","s":"B3","x":7.5,"y":18},{"p":"e","s":"B3","x":8,"y":18.7},{"p":"e","s":"B3","x":8.5,"y":18.5},{"p":"e","s":"B3","x":9,"y":18},{"p":"e","s":"B3","x":9.5,"y":18.3},{"p":"e","s":"B3","x":9.9,"y":18.6},

{"p":"f","s":"S","x":0,"y":0},{"p":"f","s":"S","x":0.3,"y":2},{"p":"f","s":"S","x":0.6,"y":5},{"p":"f","s":"S","x":0.9,"y":10},{"p":"f","s":"S","x":1.2,"y":15},{"p":"f","s":"S","x":1.5,"y":19.5},{"p":"f","s":"S","x":1.8,"y":23.5},{"p":"f","s":"S","x":2.1,"y":27},{"p":"f","s":"S","x":2.5,"y":30},{"p":"f","s":"S","x":3,"y":33},{"p":"f","s":"S","x":3.5,"y":35.5},{"p":"f","s":"S","x":4,"y":37.5},{"p":"f","s":"S","x":4.5,"y":39},{"p":"f","s":"S","x":5,"y":40.5},{"p":"f","s":"S","x":5.5,"y":41.5},{"p":"f","s":"S","x":6,"y":42.3},{"p":"f","s":"S","x":6.5,"y":42.5},{"p":"f","s":"S","x":7,"y":42.8},{"p":"f","s":"S","x":7.5,"y":42.9},{"p":"f","s":"S","x":8,"y":42.9},{"p":"f","s":"S","x":8.5,"y":42.7},{"p":"f","s":"S","x":9,"y":42.5},{"p":"f","s":"S","x":9.5,"y":42.3},{"p":"f","s":"S","x":10,"y":42},{"p":"f","s":"S","x":10.5,"y":41.5},{"p":"f","s":"S","x":11,"y":41},
{"p":"f","s":"R1","x":0,"y":0},{"p":"f","s":"R1","x":0.1,"y":8},{"p":"f","s":"R1","x":0.2,"y":15},{"p":"f","s":"R1","x":0.3,"y":20},{"p":"f","s":"R1","x":0.4,"y":23},{"p":"f","s":"R1","x":0.6,"y":26},{"p":"f","s":"R1","x":0.8,"y":29},{"p":"f","s":"R1","x":1,"y":33},{"p":"f","s":"R1","x":1.2,"y":37},{"p":"f","s":"R1","x":1.5,"y":40},{"p":"f","s":"R1","x":1.8,"y":43},{"p":"f","s":"R1","x":2.1,"y":44.5},{"p":"f","s":"R1","x":2.4,"y":46},{"p":"f","s":"R1","x":2.7,"y":47},{"p":"f","s":"R1","x":3,"y":47.5},{"p":"f","s":"R1","x":3.3,"y":47.5},{"p":"f","s":"R1","x":3.6,"y":47.3},{"p":"f","s":"R1","x":3.9,"y":47},{"p":"f","s":"R1","x":4.2,"y":48.07},{"p":"f","s":"R1","x":4.5,"y":48.2},{"p":"f","s":"R1","x":4.8,"y":47.5},
{"p":"f","s":"R3","x":0,"y":0},{"p":"f","s":"R3","x":0.1,"y":4},{"p":"f","s":"R3","x":0.25,"y":10},{"p":"f","s":"R3","x":0.4,"y":14},{"p":"f","s":"R3","x":0.55,"y":17},{"p":"f","s":"R3","x":0.7,"y":22},{"p":"f","s":"R3","x":0.85,"y":28},{"p":"f","s":"R3","x":1,"y":32},{"p":"f","s":"R3","x":1.2,"y":35},{"p":"f","s":"R3","x":1.5,"y":39.5},{"p":"f","s":"R3","x":1.8,"y":42},{"p":"f","s":"R3","x":2.1,"y":43.8},{"p":"f","s":"R3","x":2.4,"y":45},{"p":"f","s":"R3","x":2.6,"y":47},{"p":"f","s":"R3","x":2.9,"y":47.5},{"p":"f","s":"R3","x":3.2,"y":48},{"p":"f","s":"R3","x":3.6,"y":47.5},{"p":"f","s":"R3","x":3.9,"y":47},{"p":"f","s":"R3","x":4.2,"y":48},{"p":"f","s":"R3","x":4.5,"y":49.5},{"p":"f","s":"R3","x":4.7,"y":49},
{"p":"f","s":"B1","x":0,"y":0},{"p":"f","s":"B1","x":0.1,"y":20},{"p":"f","s":"B1","x":0.2,"y":35},{"p":"f","s":"B1","x":0.35,"y":43.3},{"p":"f","s":"B1","x":0.5,"y":42},{"p":"f","s":"B1","x":0.65,"y":40.5},{"p":"f","s":"B1","x":0.8,"y":41},{"p":"f","s":"B1","x":1,"y":43},{"p":"f","s":"B1","x":1.2,"y":45.5},{"p":"f","s":"B1","x":1.5,"y":45.5},{"p":"f","s":"B1","x":1.8,"y":47},{"p":"f","s":"B1","x":2.1,"y":47.2},{"p":"f","s":"B1","x":2.4,"y":47.5},{"p":"f","s":"B1","x":2.7,"y":48.98},{"p":"f","s":"B1","x":3,"y":48.8},{"p":"f","s":"B1","x":3.3,"y":48.5},{"p":"f","s":"B1","x":3.6,"y":48.3},{"p":"f","s":"B1","x":4,"y":48.2},{"p":"f","s":"B1","x":4.5,"y":48},{"p":"f","s":"B1","x":5,"y":47.2},{"p":"f","s":"B1","x":5.5,"y":47.3},{"p":"f","s":"B1","x":6,"y":46.5},{"p":"f","s":"B1","x":6.5,"y":45.5},{"p":"f","s":"B1","x":7,"y":45.3},{"p":"f","s":"B1","x":7.5,"y":44.5},{"p":"f","s":"B1","x":8,"y":43.5},{"p":"f","s":"B1","x":8.5,"y":42.8},{"p":"f","s":"B1","x":9,"y":42.8},{"p":"f","s":"B1","x":9.5,"y":41},{"p":"f","s":"B1","x":10,"y":40.5},{"p":"f","s":"B1","x":10.5,"y":39.5},{"p":"f","s":"B1","x":11,"y":38},
{"p":"f","s":"B3","x":0,"y":0},{"p":"f","s":"B3","x":0.1,"y":10},{"p":"f","s":"B3","x":0.2,"y":18},{"p":"f","s":"B3","x":0.35,"y":25},{"p":"f","s":"B3","x":0.5,"y":31},{"p":"f","s":"B3","x":0.7,"y":31.5},{"p":"f","s":"B3","x":0.9,"y":34},{"p":"f","s":"B3","x":1.1,"y":38},{"p":"f","s":"B3","x":1.3,"y":42},{"p":"f","s":"B3","x":1.5,"y":46},{"p":"f","s":"B3","x":1.8,"y":48},{"p":"f","s":"B3","x":2,"y":50},{"p":"f","s":"B3","x":2.3,"y":52},{"p":"f","s":"B3","x":2.6,"y":52.5},{"p":"f","s":"B3","x":2.9,"y":53.5},{"p":"f","s":"B3","x":3.2,"y":54.5},{"p":"f","s":"B3","x":3.5,"y":54},{"p":"f","s":"B3","x":3.8,"y":53.5},{"p":"f","s":"B3","x":4.1,"y":52},{"p":"f","s":"B3","x":4.4,"y":51},{"p":"f","s":"B3","x":4.8,"y":50.5},{"p":"f","s":"B3","x":5.2,"y":50},{"p":"f","s":"B3","x":5.6,"y":51},{"p":"f","s":"B3","x":6,"y":50.3},{"p":"f","s":"B3","x":6.5,"y":49.5},{"p":"f","s":"B3","x":7,"y":48},{"p":"f","s":"B3","x":7.5,"y":46.5},{"p":"f","s":"B3","x":8,"y":46},{"p":"f","s":"B3","x":8.5,"y":45.5},{"p":"f","s":"B3","x":9,"y":45},{"p":"f","s":"B3","x":9.5,"y":44.8},{"p":"f","s":"B3","x":10,"y":44},{"p":"f","s":"B3","x":10.5,"y":43},{"p":"f","s":"B3","x":11,"y":41.5}
],
"zt":[
{"p":"a","s":"ZB","x":0.2,"y":20},{"p":"a","s":"ZB","x":0.5,"y":8},{"p":"a","s":"ZB","x":0.8,"y":4},{"p":"a","s":"ZB","x":1,"y":9},{"p":"a","s":"ZB","x":1.3,"y":7},{"p":"a","s":"ZB","x":1.5,"y":8},{"p":"a","s":"ZB","x":1.8,"y":0},{"p":"a","s":"ZB","x":2,"y":17},{"p":"a","s":"ZB","x":2.5,"y":30},{"p":"a","s":"ZB","x":3,"y":33},{"p":"a","s":"ZB","x":3.5,"y":44},{"p":"a","s":"ZB","x":4,"y":48},{"p":"a","s":"ZB","x":4.5,"y":40},{"p":"a","s":"ZB","x":5,"y":36},{"p":"a","s":"ZB","x":5.5,"y":38},{"p":"a","s":"ZB","x":6,"y":33},{"p":"a","s":"ZB","x":6.5,"y":30},{"p":"a","s":"ZB","x":7,"y":31},{"p":"a","s":"ZB","x":7.5,"y":25},{"p":"a","s":"ZB","x":8,"y":29},{"p":"a","s":"ZB","x":8.5,"y":24},{"p":"a","s":"ZB","x":9,"y":22},{"p":"a","s":"ZB","x":9.5,"y":17},{"p":"a","s":"ZB","x":10,"y":14},{"p":"a","s":"ZB","x":10.5,"y":22},{"p":"a","s":"ZB","x":11,"y":26},{"p":"a","s":"ZB","x":11.5,"y":30},{"p":"a","s":"ZB","x":12,"y":31},{"p":"a","s":"ZB","x":12.5,"y":35},{"p":"a","s":"ZB","x":13,"y":23},{"p":"a","s":"ZB","x":13.3,"y":34},{"p":"a","s":"ZB","x":13.6,"y":29},{"p":"a","s":"ZB","x":14,"y":27},
{"p":"a","s":"ZR","x":0.3,"y":5},{"p":"a","s":"ZR","x":0.6,"y":10},{"p":"a","s":"ZR","x":1,"y":15},{"p":"a","s":"ZR","x":1.3,"y":5},{"p":"a","s":"ZR","x":1.5,"y":10},{"p":"a","s":"ZR","x":1.8,"y":25},{"p":"a","s":"ZR","x":2,"y":29},{"p":"a","s":"ZR","x":2.3,"y":22},{"p":"a","s":"ZR","x":2.5,"y":18},{"p":"a","s":"ZR","x":2.8,"y":12},{"p":"a","s":"ZR","x":3,"y":3},{"p":"a","s":"ZR","x":3.5,"y":12},{"p":"a","s":"ZR","x":4,"y":10},{"p":"a","s":"ZR","x":4.5,"y":5},{"p":"a","s":"ZR","x":5,"y":12},{"p":"a","s":"ZR","x":5.5,"y":8},{"p":"a","s":"ZR","x":6,"y":25},{"p":"a","s":"ZR","x":6.3,"y":15},{"p":"a","s":"ZR","x":6.6,"y":8},{"p":"a","s":"ZR","x":7,"y":4},{"p":"a","s":"ZR","x":7.5,"y":3},{"p":"a","s":"ZR","x":7.8,"y":1},{"p":"a","s":"ZR","x":8,"y":15},{"p":"a","s":"ZR","x":8.5,"y":20},{"p":"a","s":"ZR","x":9,"y":13},
{"p":"b","s":"ZB","x":0.6,"y":11.5},{"p":"b","s":"ZB","x":0.8,"y":8},{"p":"b","s":"ZB","x":1.1,"y":0},{"p":"b","s":"ZB","x":1.5,"y":9},{"p":"b","s":"ZB","x":2,"y":17},{"p":"b","s":"ZB","x":2.5,"y":21},{"p":"b","s":"ZB","x":3,"y":24},{"p":"b","s":"ZB","x":3.5,"y":25},{"p":"b","s":"ZB","x":4,"y":24.5},{"p":"b","s":"ZB","x":4.5,"y":22},{"p":"b","s":"ZB","x":5,"y":19},{"p":"b","s":"ZB","x":5.2,"y":13},{"p":"b","s":"ZB","x":5.6,"y":16},{"p":"b","s":"ZB","x":6,"y":13.5},{"p":"b","s":"ZB","x":6.5,"y":14},{"p":"b","s":"ZB","x":7,"y":10.5},{"p":"b","s":"ZB","x":7.5,"y":14},{"p":"b","s":"ZB","x":8,"y":13},{"p":"b","s":"ZB","x":8.5,"y":11},{"p":"b","s":"ZB","x":9,"y":8},{"p":"b","s":"ZB","x":9.5,"y":8.5},{"p":"b","s":"ZB","x":10,"y":7.5},{"p":"b","s":"ZB","x":10.5,"y":10},{"p":"b","s":"ZB","x":11,"y":13},{"p":"b","s":"ZB","x":11.3,"y":15},{"p":"b","s":"ZB","x":11.7,"y":14},{"p":"b","s":"ZB","x":12,"y":12},{"p":"b","s":"ZB","x":12.3,"y":9},{"p":"b","s":"ZB","x":12.58,"y":14},
{"p":"b","s":"ZR","x":0.3,"y":10},{"p":"b","s":"ZR","x":0.7,"y":16},{"p":"b","s":"ZR","x":1,"y":12},{"p":"b","s":"ZR","x":1.3,"y":11},{"p":"b","s":"ZR","x":1.6,"y":12},{"p":"b","s":"ZR","x":2,"y":14},{"p":"b","s":"ZR","x":2.2,"y":15.5},{"p":"b","s":"ZR","x":2.5,"y":12},{"p":"b","s":"ZR","x":2.8,"y":13},{"p":"b","s":"ZR","x":3,"y":3},{"p":"b","s":"ZR","x":3.2,"y":0},{"p":"b","s":"ZR","x":3.5,"y":5},{"p":"b","s":"ZR","x":4,"y":5},{"p":"b","s":"ZR","x":4.2,"y":7},{"p":"b","s":"ZR","x":4.5,"y":3},{"p":"b","s":"ZR","x":4.8,"y":7},{"p":"b","s":"ZR","x":5,"y":1},{"p":"b","s":"ZR","x":5.2,"y":3},{"p":"b","s":"ZR","x":5.5,"y":6},{"p":"b","s":"ZR","x":6,"y":8.5},{"p":"b","s":"ZR","x":6.5,"y":8},{"p":"b","s":"ZR","x":7,"y":7.5},{"p":"b","s":"ZR","x":7.1,"y":5},
{"p":"c","s":"ZB","x":0.6,"y":39},{"p":"c","s":"ZB","x":0.9,"y":25},{"p":"c","s":"ZB","x":1.1,"y":16},{"p":"c","s":"ZB","x":1.4,"y":0},{"p":"c","s":"ZB","x":1.7,"y":8},{"p":"c","s":"ZB","x":2,"y":9},{"p":"c","s":"ZB","x":2.5,"y":11},{"p":"c","s":"ZB","x":3,"y":13},{"p":"c","s":"ZB","x":3.5,"y":14},{"p":"c","s":"ZB","x":3.8,"y":12},{"p":"c","s":"ZB","x":4,"y":10},{"p":"c","s":"ZB","x":4.2,"y":12},{"p":"c","s":"ZB","x":4.5,"y":7},{"p":"c","s":"ZB","x":5,"y":6},{"p":"c","s":"ZB","x":5.5,"y":5.5},{"p":"c","s":"ZB","x":6,"y":5},{"p":"c","s":"ZB","x":6.5,"y":3},{"p":"c","s":"ZB","x":7,"y":2},{"p":"c","s":"ZB","x":7.5,"y":1},{"p":"c","s":"ZB","x":8,"y":1.5},{"p":"c","s":"ZB","x":8.5,"y":0.5},{"p":"c","s":"ZB","x":9,"y":2.5},{"p":"c","s":"ZB","x":9.5,"y":0.5},{"p":"c","s":"ZB","x":10,"y":1},{"p":"c","s":"ZB","x":10.5,"y":2.5},{"p":"c","s":"ZB","x":11,"y":1},{"p":"c","s":"ZB","x":11.5,"y":3},{"p":"c","s":"ZB","x":12,"y":3.5},
{"p":"c","s":"ZR","x":0.6,"y":8},{"p":"c","s":"ZR","x":0.9,"y":13},{"p":"c","s":"ZR","x":1.1,"y":2},{"p":"c","s":"ZR","x":1.4,"y":5},{"p":"c","s":"ZR","x":1.7,"y":3},{"p":"c","s":"ZR","x":2,"y":5},{"p":"c","s":"ZR","x":2.3,"y":9},{"p":"c","s":"ZR","x":2.6,"y":4},{"p":"c","s":"ZR","x":3,"y":6},{"p":"c","s":"ZR","x":3.5,"y":5},{"p":"c","s":"ZR","x":3.8,"y":7},{"p":"c","s":"ZR","x":4.1,"y":1.5},{"p":"c","s":"ZR","x":4.5,"y":5},{"p":"c","s":"ZR","x":5,"y":5.5},{"p":"c","s":"ZR","x":5.3,"y":6},{"p":"c","s":"ZR","x":5.5,"y":12},{"p":"c","s":"ZR","x":5.6,"y":4},{"p":"c","s":"ZR","x":6,"y":3},
{"p":"d","s":"ZB","x":0.8,"y":1},{"p":"d","s":"ZB","x":1.2,"y":17},{"p":"d","s":"ZB","x":1.5,"y":10},{"p":"d","s":"ZB","x":2,"y":21},{"p":"d","s":"ZB","x":2.5,"y":27},{"p":"d","s":"ZB","x":3,"y":40},{"p":"d","s":"ZB","x":3.5,"y":47},{"p":"d","s":"ZB","x":4,"y":48},{"p":"d","s":"ZB","x":4.3,"y":42},{"p":"d","s":"ZB","x":4.7,"y":48},{"p":"d","s":"ZB","x":5,"y":40},{"p":"d","s":"ZB","x":5.5,"y":38},{"p":"d","s":"ZB","x":6,"y":38},{"p":"d","s":"ZB","x":6.5,"y":25},{"p":"d","s":"ZB","x":7,"y":30},{"p":"d","s":"ZB","x":7.5,"y":25},{"p":"d","s":"ZB","x":8,"y":28},{"p":"d","s":"ZB","x":8.5,"y":23},{"p":"d","s":"ZB","x":9,"y":22},{"p":"d","s":"ZB","x":9.5,"y":21},{"p":"d","s":"ZB","x":10,"y":8},{"p":"d","s":"ZB","x":10.5,"y":13},{"p":"d","s":"ZB","x":11,"y":10},{"p":"d","s":"ZB","x":11.5,"y":16},{"p":"d","s":"ZB","x":12,"y":22},{"p":"d","s":"ZB","x":12.5,"y":22},{"p":"d","s":"ZB","x":13,"y":20},{"p":"d","s":"ZB","x":13.5,"y":22},{"p":"d","s":"ZB","x":14,"y":21},
{"p":"d","s":"ZR","x":0.5,"y":12},{"p":"d","s":"ZR","x":1,"y":1},{"p":"d","s":"ZR","x":1.3,"y":14},{"p":"d","s":"ZR","x":1.6,"y":10},{"p":"d","s":"ZR","x":2,"y":22},{"p":"d","s":"ZR","x":2.4,"y":27},{"p":"d","s":"ZR","x":2.8,"y":20},{"p":"d","s":"ZR","x":3,"y":12},{"p":"d","s":"ZR","x":3.1,"y":48},{"p":"d","s":"ZR","x":3.3,"y":14},{"p":"d","s":"ZR","x":3.6,"y":7},{"p":"d","s":"ZR","x":4,"y":4},{"p":"d","s":"ZR","x":4.3,"y":0},{"p":"d","s":"ZR","x":4.7,"y":5},{"p":"d","s":"ZR","x":5,"y":12},{"p":"d","s":"ZR","x":5.5,"y":8},{"p":"d","s":"ZR","x":5.8,"y":14},{"p":"d","s":"ZR","x":6,"y":3},{"p":"d","s":"ZR","x":6.5,"y":6},{"p":"d","s":"ZR","x":7,"y":2},{"p":"d","s":"ZR","x":7.5,"y":1},{"p":"d","s":"ZR","x":8,"y":0.5},{"p":"d","s":"ZR","x":8.2,"y":2},
{"p":"e","s":"ZB","x":0.6,"y":15},{"p":"e","s":"ZB","x":0.9,"y":11},{"p":"e","s":"ZB","x":1.2,"y":9},{"p":"e","s":"ZB","x":1.5,"y":2},{"p":"e","s":"ZB","x":1.8,"y":12},{"p":"e","s":"ZB","x":2,"y":13},{"p":"e","s":"ZB","x":2.4,"y":18},{"p":"e","s":"ZB","x":2.8,"y":26},{"p":"e","s":"ZB","x":3.2,"y":30},{"p":"e","s":"ZB","x":3.6,"y":24},{"p":"e","s":"ZB","x":4,"y":27},{"p":"e","s":"ZB","x":4.4,"y":24},{"p":"e","s":"ZB","x":4.8,"y":20},{"p":"e","s":"ZB","x":5.2,"y":17},{"p":"e","s":"ZB","x":5.5,"y":16},{"p":"e","s":"ZB","x":5.8,"y":10},{"p":"e","s":"ZB","x":6,"y":5},{"p":"e","s":"ZB","x":6.4,"y":1},{"p":"e","s":"ZB","x":6.8,"y":2},{"p":"e","s":"ZB","x":7.2,"y":6},{"p":"e","s":"ZB","x":7.6,"y":1},{"p":"e","s":"ZB","x":8,"y":0},{"p":"e","s":"ZB","x":8.4,"y":3},{"p":"e","s":"ZB","x":8.8,"y":9},{"p":"e","s":"ZB","x":9.2,"y":8},{"p":"e","s":"ZB","x":9.6,"y":7},{"p":"e","s":"ZB","x":10,"y":4},{"p":"e","s":"ZB","x":10.4,"y":3},{"p":"e","s":"ZB","x":10.8,"y":0.5},{"p":"e","s":"ZB","x":11.2,"y":3},{"p":"e","s":"ZB","x":11.6,"y":1.5},{"p":"e","s":"ZB","x":12,"y":3},{"p":"e","s":"ZB","x":12.3,"y":0},{"p":"e","s":"ZB","x":12.58,"y":2},
{"p":"e","s":"ZR","x":0.3,"y":4},{"p":"e","s":"ZR","x":0.6,"y":12},{"p":"e","s":"ZR","x":0.9,"y":14},{"p":"e","s":"ZR","x":1,"y":0},{"p":"e","s":"ZR","x":1.3,"y":9},{"p":"e","s":"ZR","x":1.6,"y":14},{"p":"e","s":"ZR","x":1.8,"y":12},{"p":"e","s":"ZR","x":2,"y":12},{"p":"e","s":"ZR","x":2.3,"y":14},{"p":"e","s":"ZR","x":2.6,"y":11},{"p":"e","s":"ZR","x":2.9,"y":13},{"p":"e","s":"ZR","x":3.2,"y":3},{"p":"e","s":"ZR","x":3.5,"y":9},{"p":"e","s":"ZR","x":4,"y":14},{"p":"e","s":"ZR","x":4.3,"y":12},{"p":"e","s":"ZR","x":4.5,"y":6},{"p":"e","s":"ZR","x":5,"y":3},{"p":"e","s":"ZR","x":5.5,"y":9},{"p":"e","s":"ZR","x":5.8,"y":12},{"p":"e","s":"ZR","x":6,"y":0},{"p":"e","s":"ZR","x":6.3,"y":1},{"p":"e","s":"ZR","x":6.6,"y":3},{"p":"e","s":"ZR","x":7,"y":4},{"p":"e","s":"ZR","x":7.4,"y":2},{"p":"e","s":"ZR","x":7.7,"y":0},
{"p":"f","s":"ZB","x":0.7,"y":33},{"p":"f","s":"ZB","x":0.9,"y":25},{"p":"f","s":"ZB","x":1.1,"y":12},{"p":"f","s":"ZB","x":1.5,"y":2},{"p":"f","s":"ZB","x":1.8,"y":6},{"p":"f","s":"ZB","x":2.1,"y":8},{"p":"f","s":"ZB","x":2.5,"y":7.5},{"p":"f","s":"ZB","x":2.8,"y":8},{"p":"f","s":"ZB","x":3,"y":11},{"p":"f","s":"ZB","x":3.3,"y":11.5},{"p":"f","s":"ZB","x":3.6,"y":11},{"p":"f","s":"ZB","x":4,"y":11},{"p":"f","s":"ZB","x":4.3,"y":7},{"p":"f","s":"ZB","x":4.6,"y":7.5},{"p":"f","s":"ZB","x":5,"y":6.5},{"p":"f","s":"ZB","x":5.5,"y":6},{"p":"f","s":"ZB","x":6,"y":7},{"p":"f","s":"ZB","x":6.5,"y":6},{"p":"f","s":"ZB","x":7,"y":4},{"p":"f","s":"ZB","x":7.5,"y":4.5},{"p":"f","s":"ZB","x":8,"y":4.5},{"p":"f","s":"ZB","x":8.5,"y":4},{"p":"f","s":"ZB","x":9,"y":4.5},{"p":"f","s":"ZB","x":9.3,"y":7},{"p":"f","s":"ZB","x":9.7,"y":7.5},{"p":"f","s":"ZB","x":10,"y":7},{"p":"f","s":"ZB","x":10.5,"y":8},{"p":"f","s":"ZB","x":11,"y":8.5},
{"p":"f","s":"ZR","x":0.7,"y":30},{"p":"f","s":"ZR","x":0.9,"y":10},{"p":"f","s":"ZR","x":1.1,"y":0},{"p":"f","s":"ZR","x":1.3,"y":4},{"p":"f","s":"ZR","x":1.5,"y":3},{"p":"f","s":"ZR","x":1.8,"y":3},{"p":"f","s":"ZR","x":2.1,"y":3},{"p":"f","s":"ZR","x":2.4,"y":1},{"p":"f","s":"ZR","x":2.7,"y":0.5},{"p":"f","s":"ZR","x":3,"y":1.5},{"p":"f","s":"ZR","x":3.3,"y":1},{"p":"f","s":"ZR","x":3.6,"y":0.5},{"p":"f","s":"ZR","x":3.9,"y":1},{"p":"f","s":"ZR","x":4.2,"y":3.5},{"p":"f","s":"ZR","x":4.5,"y":3},{"p":"f","s":"ZR","x":4.8,"y":3.5}
]
},
"spacing":44,
"resolve":{"scale":{"fill":"independent","shape":"independent"},"legend":{"fill":"independent","shape":"independent"}},
"vconcat":[
{"hconcat":[
{"title":"(a) N, ρR = 5%","width":270,"height":226,"resolve":{"scale":{"y":"independent"}},"layer":[
 {"layer":[
  {"data":{"name":"zt"},"transform":[{"filter":"datum.p=='a'"}],"mark":{"type":"line","strokeWidth":1.2},"encoding":{
   "x":{"field":"x","type":"quantitative","scale":{"domain":[0,14],"nice":false},"axis":{"title":"Nominal strain [%]","values":[0,2,4,6,8,10,12,14],"tickCount":30,"format":"d","labelOverlap":false}},
   "y":{"field":"y","type":"quantitative","scale":{"domain":[0,50.4],"nice":false},"axis":{"orient":"right","title":"Stress equilibrium ratio [%]","values":[0,5,8,16,24,32,40,48],"tickCount":30,"labelOverlap":false,"grid":false,"labelColor":"green","titleColor":"green","tickColor":"green","domainColor":"green","domainWidth":1.5,"titleAngle":270,"titleBaseline":"top"}},
   "color":{"field":"s","type":"nominal","scale":{"domain":["S","R3","B3","ZB","R1","B1","ZR","Z5"],"range":["black","red","blue","#c8c8ff","red","blue","#ffcccc","green"]},"legend":{"title":null,"labelExpr":"{'S':'σN, Static','R1':'σN,1D, P=0.15MPa','R3':'σN,3D, P=0.15MPa','B1':'σN,1D, P=0.25MPa','B3':'σN,3D, P=0.25MPa','ZR':'ζ, P=0.15MPa','ZB':'ζ, P=0.25MPa','Z5':'ζ, = 5%'}[datum.value]","encode":{"labels":{"update":{"fill":{"signal":"indexof(['ZR','ZB','Z5'],datum.value)>=0 ? 'green' : 'black'"}}}}}}}},
  {"data":{"name":"zt"},"transform":[{"filter":"datum.p=='a' && datum.s=='ZB'"}],"mark":{"type":"point","shape":"circle","filled":true,"size":28,"color":"#b4b4fa","opacity":1},"encoding":{"x":{"field":"x","type":"quantitative","scale":{"domain":[0,14],"nice":false}},"y":{"field":"y","type":"quantitative","scale":{"domain":[0,50.4],"nice":false}}}},
  {"data":{"name":"zt"},"transform":[{"filter":"datum.p=='a' && datum.s=='ZR'"}],"mark":{"type":"point","shape":"square","filled":true,"size":28,"color":"#ffb8b8","opacity":1},"encoding":{"x":{"field":"x","type":"quantitative","scale":{"domain":[0,14],"nice":false}},"y":{"field":"y","type":"quantitative","scale":{"domain":[0,50.4],"nice":false}}}},
  {"data":{"name":"lim"},"mark":{"type":"rule","strokeWidth":3},"encoding":{"y":{"field":"z","type":"quantitative","scale":{"domain":[0,50.4],"nice":false}},"color":{"field":"s","type":"nominal"}}}
 ]},
 {"layer":[
  {"data":{"name":"st"},"transform":[{"filter":"datum.p=='a'"}],"mark":{"type":"line","strokeWidth":2.5},"encoding":{
   "x":{"field":"x","type":"quantitative","scale":{"domain":[0,14],"nice":false}},
   "y":{"field":"y","type":"quantitative","scale":{"domain":[0,17.05],"nice":false},"axis":{"orient":"left","title":"Nominal stress [MPa]","values":[0,2.5,5,7.5,10,12.5,15],"tickCount":30,"format":".1f","grid":true,"labelOverlap":false}},
   "color":{"field":"s","type":"nominal"},
   "strokeDash":{"field":"s","type":"nominal","scale":{"domain":["S","R3","B3","ZB","R1","B1","ZR","Z5"],"range":[[1,0],[4,4],[4,4],[1,0],[1,0],[1,0],[1,0],[1,0]]}}}},
  {"data":{"name":"yp"},"transform":[{"filter":"datum.p=='a'"}],"mark":{"type":"point","filled":true,"stroke":"black","strokeWidth":1,"size":90,"opacity":1},"encoding":{
   "x":{"field":"x","type":"quantitative","scale":{"domain":[0,14],"nice":false}},
   "y":{"field":"y","type":"quantitative","scale":{"domain":[0,17.05],"nice":false}},
   "fill":{"field":"lab","type":"nominal","sort":{"field":"o","op":"min"},"scale":{"range":["black","red","blue"]},"legend":{"title":null,"orient":"none","legendX":-24,"legendY":-30,"direction":"horizontal","columns":3,"symbolSize":80,"symbolStrokeWidth":1,"symbolStrokeColor":"black","labelFont":"Liberation Serif","labelFontSize":14,"columnPadding":10,"rowPadding":0,"padding":4,"labelOffset":5,"strokeColor":"#cccccc","cornerRadius":3}},
   "shape":{"field":"lab","type":"nominal","sort":{"field":"o","op":"min"},"scale":{"range":["triangle-up","square","circle"]},"legend":{"title":null,"orient":"none","legendX":-24,"legendY":-30,"direction":"horizontal","columns":3,"symbolSize":80,"symbolStrokeWidth":1,"symbolStrokeColor":"black","labelFont":"Liberation Serif","labelFontSize":14,"columnPadding":10,"rowPadding":0,"padding":4,"labelOffset":5,"strokeColor":"#cccccc","cornerRadius":3}}}}
 ]}
]},
{"title":"(b) N, ρR = 10%","width":270,"height":226,"resolve":{"scale":{"y":"independent"}},"layer":[
 {"layer":[
  {"data":{"name":"zt"},"transform":[{"filter":"datum.p=='b'"}],"mark":{"type":"line","strokeWidth":1.2},"encoding":{
   "x":{"field":"x","type":"quantitative","scale":{"domain":[0,12.58],"nice":false},"axis":{"title":"Nominal strain [%]","values":[0,2,4,6,8,10,12],"tickCount":30,"format":"d","labelOverlap":false}},
   "y":{"field":"y","type":"quantitative","scale":{"domain":[0,50.4],"nice":false},"axis":{"orient":"right","title":"Stress equilibrium ratio [%]","values":[0,5,8,16,24,32,40,48],"tickCount":30,"labelOverlap":false,"grid":false,"labelColor":"green","titleColor":"green","tickColor":"green","domainColor":"green","domainWidth":1.5,"titleAngle":270,"titleBaseline":"top"}},
   "color":{"field":"s","type":"nominal"}}},
  {"data":{"name":"zt"},"transform":[{"filter":"datum.p=='b' && datum.s=='ZB'"}],"mark":{"type":"point","shape":"circle","filled":true,"size":28,"color":"#b4b4fa","opacity":1},"encoding":{"x":{"field":"x","type":"quantitative","scale":{"domain":[0,12.58],"nice":false}},"y":{"field":"y","type":"quantitative","scale":{"domain":[0,50.4],"nice":false}}}},
  {"data":{"name":"zt"},"transform":[{"filter":"datum.p=='b' && datum.s=='ZR'"}],"mark":{"type":"point","shape":"square","filled":true,"size":28,"color":"#ffb8b8","opacity":1},"encoding":{"x":{"field":"x","type":"quantitative","scale":{"domain":[0,12.58],"nice":false}},"y":{"field":"y","type":"quantitative","scale":{"domain":[0,50.4],"nice":false}}}},
  {"data":{"name":"lim"},"mark":{"type":"rule","strokeWidth":3},"encoding":{"y":{"field":"z","type":"quantitative","scale":{"domain":[0,50.4],"nice":false}},"color":{"field":"s","type":"nominal"}}}
 ]},
 {"layer":[
  {"data":{"name":"st"},"transform":[{"filter":"datum.p=='b'"}],"mark":{"type":"line","strokeWidth":2.5},"encoding":{
   "x":{"field":"x","type":"quantitative","scale":{"domain":[0,12.58],"nice":false}},
   "y":{"field":"y","type":"quantitative","scale":{"domain":[0,32],"nice":false},"axis":{"orient":"left","title":"Nominal stress [MPa]","values":[0,4,8,12,16,20,24,28,32],"tickCount":30,"format":"d","grid":true,"labelOverlap":false}},
   "color":{"field":"s","type":"nominal"},
   "strokeDash":{"field":"s","type":"nominal"}}},
  {"data":{"name":"yp"},"transform":[{"filter":"datum.p=='b'"}],"mark":{"type":"point","filled":true,"stroke":"black","strokeWidth":1,"size":90,"opacity":1},"encoding":{
   "x":{"field":"x","type":"quantitative","scale":{"domain":[0,12.58],"nice":false}},
   "y":{"field":"y","type":"quantitative","scale":{"domain":[0,32],"nice":false}},
   "fill":{"field":"lab","type":"nominal","sort":{"field":"o","op":"min"},"scale":{"range":["black","red","blue"]},"legend":{"title":null,"orient":"none","legendX":-40,"legendY":-30,"direction":"horizontal","columns":3,"symbolSize":80,"symbolStrokeWidth":1,"symbolStrokeColor":"black","labelFont":"Liberation Serif","labelFontSize":14,"columnPadding":10,"rowPadding":0,"padding":4,"labelOffset":5,"strokeColor":"#cccccc","cornerRadius":3}},
   "shape":{"field":"lab","type":"nominal","sort":{"field":"o","op":"min"},"scale":{"range":["triangle-up","square","circle"]},"legend":{"title":null,"orient":"none","legendX":-40,"legendY":-30,"direction":"horizontal","columns":3,"symbolSize":80,"symbolStrokeWidth":1,"symbolStrokeColor":"black","labelFont":"Liberation Serif","labelFontSize":14,"columnPadding":10,"rowPadding":0,"padding":4,"labelOffset":5,"strokeColor":"#cccccc","cornerRadius":3}}}}
 ]}
]},
{"title":"(c) N, ρR = 15%","width":270,"height":226,"resolve":{"scale":{"y":"independent"}},"layer":[
 {"layer":[
  {"data":{"name":"zt"},"transform":[{"filter":"datum.p=='c'"}],"mark":{"type":"line","strokeWidth":1.2},"encoding":{
   "x":{"field":"x","type":"quantitative","scale":{"domain":[0,12],"nice":false},"axis":{"title":"Nominal strain [%]","values":[0,1.5,3,4.5,6,7.5,9,10.5,12],"tickCount":30,"format":".1f","labelOverlap":false}},
   "y":{"field":"y","type":"quantitative","scale":{"domain":[0,50.4],"nice":false},"axis":{"orient":"right","title":"Stress equilibrium ratio [%]","values":[0,5,8,16,24,32,40,48],"tickCount":30,"labelOverlap":false,"grid":false,"labelColor":"green","titleColor":"green","tickColor":"green","domainColor":"green","domainWidth":1.5,"titleAngle":270,"titleBaseline":"top"}},
   "color":{"field":"s","type":"nominal"}}},
  {"data":{"name":"zt"},"transform":[{"filter":"datum.p=='c' && datum.s=='ZB'"}],"mark":{"type":"point","shape":"circle","filled":true,"size":28,"color":"#b4b4fa","opacity":1},"encoding":{"x":{"field":"x","type":"quantitative","scale":{"domain":[0,12],"nice":false}},"y":{"field":"y","type":"quantitative","scale":{"domain":[0,50.4],"nice":false}}}},
  {"data":{"name":"zt"},"transform":[{"filter":"datum.p=='c' && datum.s=='ZR'"}],"mark":{"type":"point","shape":"square","filled":true,"size":28,"color":"#ffb8b8","opacity":1},"encoding":{"x":{"field":"x","type":"quantitative","scale":{"domain":[0,12],"nice":false}},"y":{"field":"y","type":"quantitative","scale":{"domain":[0,50.4],"nice":false}}}},
  {"data":{"name":"lim"},"mark":{"type":"rule","strokeWidth":3},"encoding":{"y":{"field":"z","type":"quantitative","scale":{"domain":[0,50.4],"nice":false}},"color":{"field":"s","type":"nominal"}}}
 ]},
 {"layer":[
  {"data":{"name":"st"},"transform":[{"filter":"datum.p=='c'"}],"mark":{"type":"line","strokeWidth":2.5},"encoding":{
   "x":{"field":"x","type":"quantitative","scale":{"domain":[0,12],"nice":false}},
   "y":{"field":"y","type":"quantitative","scale":{"domain":[0,56],"nice":false},"axis":{"orient":"left","title":"Nominal stress [MPa]","values":[0,8,16,24,32,40,48,56],"tickCount":30,"format":"d","grid":true,"labelOverlap":false}},
   "color":{"field":"s","type":"nominal"},
   "strokeDash":{"field":"s","type":"nominal"}}},
  {"data":{"name":"yp"},"transform":[{"filter":"datum.p=='c'"}],"mark":{"type":"point","filled":true,"stroke":"black","strokeWidth":1,"size":90,"opacity":1},"encoding":{
   "x":{"field":"x","type":"quantitative","scale":{"domain":[0,12],"nice":false}},
   "y":{"field":"y","type":"quantitative","scale":{"domain":[0,56],"nice":false}},
   "fill":{"field":"lab","type":"nominal","sort":{"field":"o","op":"min"},"scale":{"range":["black","red","blue"]},"legend":{"title":null,"orient":"none","legendX":-24,"legendY":-30,"direction":"horizontal","columns":3,"symbolSize":80,"symbolStrokeWidth":1,"symbolStrokeColor":"black","labelFont":"Liberation Serif","labelFontSize":14,"columnPadding":10,"rowPadding":0,"padding":4,"labelOffset":5,"strokeColor":"#cccccc","cornerRadius":3}},
   "shape":{"field":"lab","type":"nominal","sort":{"field":"o","op":"min"},"scale":{"range":["triangle-up","square","circle"]},"legend":{"title":null,"orient":"none","legendX":-24,"legendY":-30,"direction":"horizontal","columns":3,"symbolSize":80,"symbolStrokeWidth":1,"symbolStrokeColor":"black","labelFont":"Liberation Serif","labelFontSize":14,"columnPadding":10,"rowPadding":0,"padding":4,"labelOffset":5,"strokeColor":"#cccccc","cornerRadius":3}}}}
 ]}
]}
],"spacing":36,"resolve":{"scale":{"fill":"independent","shape":"independent"},"legend":{"fill":"independent","shape":"independent"}}},
{"hconcat":[
{"title":"(d) S, ρR = 5%","width":270,"height":226,"resolve":{"scale":{"y":"independent"}},"layer":[
 {"layer":[
  {"data":{"name":"zt"},"transform":[{"filter":"datum.p=='d'"}],"mark":{"type":"line","strokeWidth":1.2},"encoding":{
   "x":{"field":"x","type":"quantitative","scale":{"domain":[0,14],"nice":false},"axis":{"title":"Nominal strain [%]","values":[0,2,4,6,8,10,12,14],"tickCount":30,"format":"d","labelOverlap":false}},
   "y":{"field":"y","type":"quantitative","scale":{"domain":[0,50.4],"nice":false},"axis":{"orient":"right","title":"Stress equilibrium ratio [%]","values":[0,5,8,16,24,32,40,48],"tickCount":30,"labelOverlap":false,"grid":false,"labelColor":"green","titleColor":"green","tickColor":"green","domainColor":"green","domainWidth":1.5,"titleAngle":270,"titleBaseline":"top"}},
   "color":{"field":"s","type":"nominal"}}},
  {"data":{"name":"zt"},"transform":[{"filter":"datum.p=='d' && datum.s=='ZB'"}],"mark":{"type":"point","shape":"circle","filled":true,"size":28,"color":"#b4b4fa","opacity":1},"encoding":{"x":{"field":"x","type":"quantitative","scale":{"domain":[0,14],"nice":false}},"y":{"field":"y","type":"quantitative","scale":{"domain":[0,50.4],"nice":false}}}},
  {"data":{"name":"zt"},"transform":[{"filter":"datum.p=='d' && datum.s=='ZR'"}],"mark":{"type":"point","shape":"square","filled":true,"size":28,"color":"#ffb8b8","opacity":1},"encoding":{"x":{"field":"x","type":"quantitative","scale":{"domain":[0,14],"nice":false}},"y":{"field":"y","type":"quantitative","scale":{"domain":[0,50.4],"nice":false}}}},
  {"data":{"name":"lim"},"mark":{"type":"rule","strokeWidth":3},"encoding":{"y":{"field":"z","type":"quantitative","scale":{"domain":[0,50.4],"nice":false}},"color":{"field":"s","type":"nominal"}}}
 ]},
 {"layer":[
  {"data":{"name":"st"},"transform":[{"filter":"datum.p=='d'"}],"mark":{"type":"line","strokeWidth":2.5},"encoding":{
   "x":{"field":"x","type":"quantitative","scale":{"domain":[0,14],"nice":false}},
   "y":{"field":"y","type":"quantitative","scale":{"domain":[0,17.1],"nice":false},"axis":{"orient":"left","title":"Nominal stress [MPa]","values":[0,2.5,5,7.5,10,12.5,15],"tickCount":30,"format":".1f","grid":true,"labelOverlap":false}},
   "color":{"field":"s","type":"nominal"},
   "strokeDash":{"field":"s","type":"nominal"}}},
  {"data":{"name":"yp"},"transform":[{"filter":"datum.p=='d'"}],"mark":{"type":"point","filled":true,"stroke":"black","strokeWidth":1,"size":90,"opacity":1},"encoding":{
   "x":{"field":"x","type":"quantitative","scale":{"domain":[0,14],"nice":false}},
   "y":{"field":"y","type":"quantitative","scale":{"domain":[0,17.1],"nice":false}},
   "fill":{"field":"lab","type":"nominal","sort":{"field":"o","op":"min"},"scale":{"range":["black","red","blue"]},"legend":{"title":null,"orient":"none","legendX":-24,"legendY":-30,"direction":"horizontal","columns":3,"symbolSize":80,"symbolStrokeWidth":1,"symbolStrokeColor":"black","labelFont":"Liberation Serif","labelFontSize":14,"columnPadding":10,"rowPadding":0,"padding":4,"labelOffset":5,"strokeColor":"#cccccc","cornerRadius":3}},
   "shape":{"field":"lab","type":"nominal","sort":{"field":"o","op":"min"},"scale":{"range":["triangle-up","square","circle"]},"legend":{"title":null,"orient":"none","legendX":-24,"legendY":-30,"direction":"horizontal","columns":3,"symbolSize":80,"symbolStrokeWidth":1,"symbolStrokeColor":"black","labelFont":"Liberation Serif","labelFontSize":14,"columnPadding":10,"rowPadding":0,"padding":4,"labelOffset":5,"strokeColor":"#cccccc","cornerRadius":3}}}}
 ]}
]},
{"title":"(e) S, ρR = 10%","width":270,"height":226,"resolve":{"scale":{"y":"independent"}},"layer":[
 {"layer":[
  {"data":{"name":"zt"},"transform":[{"filter":"datum.p=='e'"}],"mark":{"type":"line","strokeWidth":1.2},"encoding":{
   "x":{"field":"x","type":"quantitative","scale":{"domain":[0,12.58],"nice":false},"axis":{"title":"Nominal strain [%]","values":[0,2,4,6,8,10,12],"tickCount":30,"format":"d","labelOverlap":false}},
   "y":{"field":"y","type":"quantitative","scale":{"domain":[0,50.4],"nice":false},"axis":{"orient":"right","title":"Stress equilibrium ratio [%]","values":[0,5,8,16,24,32,40,48],"tickCount":30,"labelOverlap":false,"grid":false,"labelColor":"green","titleColor":"green","tickColor":"green","domainColor":"green","domainWidth":1.5,"titleAngle":270,"titleBaseline":"top"}},
   "color":{"field":"s","type":"nominal"}}},
  {"data":{"name":"zt"},"transform":[{"filter":"datum.p=='e' && datum.s=='ZB'"}],"mark":{"type":"point","shape":"circle","filled":true,"size":28,"color":"#b4b4fa","opacity":1},"encoding":{"x":{"field":"x","type":"quantitative","scale":{"domain":[0,12.58],"nice":false}},"y":{"field":"y","type":"quantitative","scale":{"domain":[0,50.4],"nice":false}}}},
  {"data":{"name":"zt"},"transform":[{"filter":"datum.p=='e' && datum.s=='ZR'"}],"mark":{"type":"point","shape":"square","filled":true,"size":28,"color":"#ffb8b8","opacity":1},"encoding":{"x":{"field":"x","type":"quantitative","scale":{"domain":[0,12.58],"nice":false}},"y":{"field":"y","type":"quantitative","scale":{"domain":[0,50.4],"nice":false}}}},
  {"data":{"name":"lim"},"mark":{"type":"rule","strokeWidth":3},"encoding":{"y":{"field":"z","type":"quantitative","scale":{"domain":[0,50.4],"nice":false}},"color":{"field":"s","type":"nominal"}}}
 ]},
 {"layer":[
  {"data":{"name":"st"},"transform":[{"filter":"datum.p=='e'"}],"mark":{"type":"line","strokeWidth":2.5},"encoding":{
   "x":{"field":"x","type":"quantitative","scale":{"domain":[0,12.58],"nice":false}},
   "y":{"field":"y","type":"quantitative","scale":{"domain":[0,32],"nice":false},"axis":{"orient":"left","title":"Nominal stress [MPa]","values":[0,4,8,12,16,20,24,28,32],"tickCount":30,"format":"d","grid":true,"labelOverlap":false}},
   "color":{"field":"s","type":"nominal"},
   "strokeDash":{"field":"s","type":"nominal"}}},
  {"data":{"name":"yp"},"transform":[{"filter":"datum.p=='e'"}],"mark":{"type":"point","filled":true,"stroke":"black","strokeWidth":1,"size":90,"opacity":1},"encoding":{
   "x":{"field":"x","type":"quantitative","scale":{"domain":[0,12.58],"nice":false}},
   "y":{"field":"y","type":"quantitative","scale":{"domain":[0,32],"nice":false}},
   "fill":{"field":"lab","type":"nominal","sort":{"field":"o","op":"min"},"scale":{"range":["black","red","blue"]},"legend":{"title":null,"orient":"none","legendX":-40,"legendY":-30,"direction":"horizontal","columns":3,"symbolSize":80,"symbolStrokeWidth":1,"symbolStrokeColor":"black","labelFont":"Liberation Serif","labelFontSize":14,"columnPadding":10,"rowPadding":0,"padding":4,"labelOffset":5,"strokeColor":"#cccccc","cornerRadius":3}},
   "shape":{"field":"lab","type":"nominal","sort":{"field":"o","op":"min"},"scale":{"range":["triangle-up","square","circle"]},"legend":{"title":null,"orient":"none","legendX":-40,"legendY":-30,"direction":"horizontal","columns":3,"symbolSize":80,"symbolStrokeWidth":1,"symbolStrokeColor":"black","labelFont":"Liberation Serif","labelFontSize":14,"columnPadding":10,"rowPadding":0,"padding":4,"labelOffset":5,"strokeColor":"#cccccc","cornerRadius":3}}}}
 ]}
]},
{"title":"(f) S, ρR = 15%","width":270,"height":226,"resolve":{"scale":{"y":"independent"}},"layer":[
 {"layer":[
  {"data":{"name":"zt"},"transform":[{"filter":"datum.p=='f'"}],"mark":{"type":"line","strokeWidth":1.2},"encoding":{
   "x":{"field":"x","type":"quantitative","scale":{"domain":[0,11],"nice":false},"axis":{"title":"Nominal strain [%]","values":[0,1.5,3,4.5,6,7.5,9,10.5],"tickCount":30,"format":".1f","labelOverlap":false}},
   "y":{"field":"y","type":"quantitative","scale":{"domain":[0,50.4],"nice":false},"axis":{"orient":"right","title":"Stress equilibrium ratio [%]","values":[0,5,8,16,24,32,40,48],"tickCount":30,"labelOverlap":false,"grid":false,"labelColor":"green","titleColor":"green","tickColor":"green","domainColor":"green","domainWidth":1.5,"titleAngle":270,"titleBaseline":"top"}},
   "color":{"field":"s","type":"nominal"}}},
  {"data":{"name":"zt"},"transform":[{"filter":"datum.p=='f' && datum.s=='ZB'"}],"mark":{"type":"point","shape":"circle","filled":true,"size":28,"color":"#b4b4fa","opacity":1},"encoding":{"x":{"field":"x","type":"quantitative","scale":{"domain":[0,11],"nice":false}},"y":{"field":"y","type":"quantitative","scale":{"domain":[0,50.4],"nice":false}}}},
  {"data":{"name":"zt"},"transform":[{"filter":"datum.p=='f' && datum.s=='ZR'"}],"mark":{"type":"point","shape":"square","filled":true,"size":28,"color":"#ffb8b8","opacity":1},"encoding":{"x":{"field":"x","type":"quantitative","scale":{"domain":[0,11],"nice":false}},"y":{"field":"y","type":"quantitative","scale":{"domain":[0,50.4],"nice":false}}}},
  {"data":{"name":"lim"},"mark":{"type":"rule","strokeWidth":3},"encoding":{"y":{"field":"z","type":"quantitative","scale":{"domain":[0,50.4],"nice":false}},"color":{"field":"s","type":"nominal"}}}
 ]},
 {"layer":[
  {"data":{"name":"st"},"transform":[{"filter":"datum.p=='f'"}],"mark":{"type":"line","strokeWidth":2.5},"encoding":{
   "x":{"field":"x","type":"quantitative","scale":{"domain":[0,11],"nice":false}},
   "y":{"field":"y","type":"quantitative","scale":{"domain":[0,56],"nice":false},"axis":{"orient":"left","title":"Nominal stress [MPa]","values":[0,8,16,24,32,40,48,56],"tickCount":30,"format":"d","grid":true,"labelOverlap":false}},
   "color":{"field":"s","type":"nominal"},
   "strokeDash":{"field":"s","type":"nominal"}}},
  {"data":{"name":"yp"},"transform":[{"filter":"datum.p=='f'"}],"mark":{"type":"point","filled":true,"stroke":"black","strokeWidth":1,"size":90,"opacity":1},"encoding":{
   "x":{"field":"x","type":"quantitative","scale":{"domain":[0,11],"nice":false}},
   "y":{"field":"y","type":"quantitative","scale":{"domain":[0,56],"nice":false}},
   "fill":{"field":"lab","type":"nominal","sort":{"field":"o","op":"min"},"scale":{"range":["black","red","blue"]},"legend":{"title":null,"orient":"none","legendX":-22,"legendY":-30,"direction":"horizontal","columns":3,"symbolSize":80,"symbolStrokeWidth":1,"symbolStrokeColor":"black","labelFont":"Liberation Serif","labelFontSize":14,"columnPadding":10,"rowPadding":0,"padding":4,"labelOffset":5,"strokeColor":"#cccccc","cornerRadius":3}},
   "shape":{"field":"lab","type":"nominal","sort":{"field":"o","op":"min"},"scale":{"range":["triangle-up","square","circle"]},"legend":{"title":null,"orient":"none","legendX":-22,"legendY":-30,"direction":"horizontal","columns":3,"symbolSize":80,"symbolStrokeWidth":1,"symbolStrokeColor":"black","labelFont":"Liberation Serif","labelFontSize":14,"columnPadding":10,"rowPadding":0,"padding":4,"labelOffset":5,"strokeColor":"#cccccc","cornerRadius":3}}}}
 ]}
]}
],"spacing":36,"resolve":{"scale":{"fill":"independent","shape":"independent"},"legend":{"fill":"independent","shape":"independent"}}}
]
}
